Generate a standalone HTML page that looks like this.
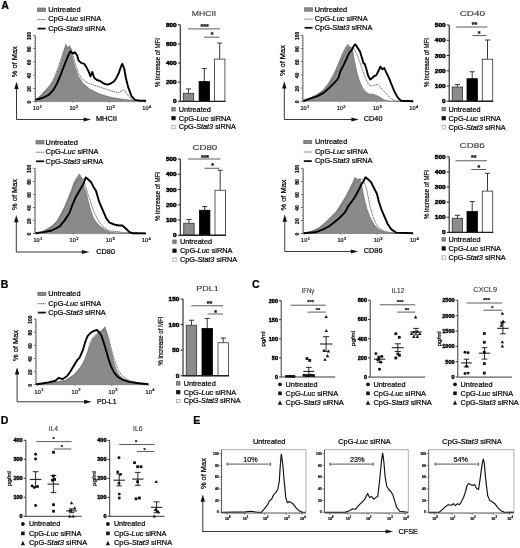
<!DOCTYPE html>
<html><head><meta charset="utf-8"><style>
html,body{margin:0;padding:0;background:#fff;}
svg{display:block;font-family:"Liberation Sans", sans-serif;} svg{filter:grayscale(1);}
</style></head><body>
<svg width="520" height="548" viewBox="0 0 520 548">
<rect width="520" height="548" fill="#fff"/>
<text x="1.3" y="9" font-size="10.6" font-weight="bold" fill="#000" stroke="#000" stroke-width="0.22">A</text>
<text x="0.8" y="287.7" font-size="10.6" font-weight="bold" fill="#000" stroke="#000" stroke-width="0.22">B</text>
<text x="252" y="288.2" font-size="10.6" font-weight="bold" fill="#000" stroke="#000" stroke-width="0.22">C</text>
<text x="0.8" y="423.6" font-size="10.6" font-weight="bold" fill="#000" stroke="#000" stroke-width="0.22">D</text>
<text x="193.2" y="423.6" font-size="10.6" font-weight="bold" fill="#000" stroke="#000" stroke-width="0.22">E</text>
<path d="M35.4 99.6 L38 98 L41.5 94.5 L45 90.5 L48.5 86.9 L53.1 81.2 L56.5 74.2 L60 65 L62.3 58.1 L64.6 48.8 L65.8 44.2 L67 46.5 L68.1 47.7 L69.7 45.4 L71.5 52.3 L72.7 58.1 L75 67.3 L78.5 76.5 L83.1 83.5 L90 89.2 L99.2 93.8 L110.8 97.3 L122.3 99.2 L131.5 100.3 L146 101.4 L146 101.6 L35.4 101.6 Z" fill="#8a8a8a" stroke="#666" stroke-width="0.6"/>
<path d="M35.4 99.8 L41.5 95.5 L46.5 90.5 L50.5 85 L54.5 77 L58 68 L61 59 L63.5 51.5 L65.5 47.5 L67.5 48.5 L69.5 46.5 L71 48 L72.5 53 L73.8 58.1 L76.2 66.2 L78.5 73.1 L81.9 78.8 L86.5 82.3 L92.3 84.6 L99.2 86.9 L106.2 89.2 L113.1 91.5 L118.8 92.7 L122.3 90.4 L124.6 90.4 L126.9 93.8 L130.4 98.5 L133.8 100.3 L146 101.3" fill="none" stroke="#6e6e6e" stroke-width="1" stroke-dasharray="1.6 0.6"/>
<path d="M35.4 99.6 L39 99 L43.8 97.3 L48.5 95 L53.1 90.4 L56.5 84.6 L60 76.5 L63.5 67.3 L65.8 61.5 L68.1 55.8 L70.4 51.2 L72.7 53.5 L75 52.3 L77.3 55.8 L78.5 60.4 L80.8 62.7 L84.2 63.8 L86.5 67.3 L88.8 71.9 L90.5 76.5 L92.3 71.9 L94.2 77.7 L96.9 80 L100.4 81.2 L103.8 83.5 L107.3 84.6 L110.8 83.5 L114.2 81.2 L116.5 77.7 L118.8 73.1 L120.7 67.3 L122.3 63.8 L124.2 68.5 L125.8 77.7 L128.1 86.9 L131.5 96.2 L135 99.9 L139.6 100.6 L146 100.8" fill="none" stroke="#000" stroke-width="1.9" stroke-linejoin="round"/>
<rect x="37.6" y="8" width="8" height="3.4" fill="#8a8a8a" stroke="#555" stroke-width="0.6"/>
<line x1="37.6" y1="19.6" x2="45.6" y2="19.6" stroke="#444" stroke-width="1" stroke-dasharray="1 0.7"/>
<line x1="37.6" y1="28.6" x2="45.6" y2="28.6" stroke="#111" stroke-width="1.8"/>
<text x="48.2" y="12" font-size="7.3" textLength="32.3" lengthAdjust="spacingAndGlyphs" stroke="#000" stroke-width="0.22">Untreated</text>
<text x="48.2" y="21.4" font-size="7.3" textLength="52.9" lengthAdjust="spacingAndGlyphs" stroke="#000" stroke-width="0.22">CpG-<tspan font-style="italic">Luc</tspan> siRNA</text>
<text x="48.2" y="30.8" font-size="7.3" textLength="57.5" lengthAdjust="spacingAndGlyphs" stroke="#000" stroke-width="0.22">CpG-<tspan font-style="italic">Stat3</tspan> siRNA</text>
<line x1="35.3" y1="35.5" x2="35.3" y2="101.6" stroke="#333" stroke-width="0.8"/>
<line x1="33.1" y1="101.6" x2="35.3" y2="101.6" stroke="#333" stroke-width="0.7"/>
<text x="31.1" y="102.2" font-size="5.4" text-anchor="middle" font-weight="bold" fill="#222" textLength="2.8" lengthAdjust="spacingAndGlyphs" transform="rotate(-90 31.1 102.2)" stroke="#000" stroke-width="0.22">0</text>
<line x1="34.1" y1="98.96" x2="35.3" y2="98.96" stroke="#555" stroke-width="0.5"/>
<line x1="34.1" y1="96.31" x2="35.3" y2="96.31" stroke="#555" stroke-width="0.5"/>
<line x1="34.1" y1="93.67" x2="35.3" y2="93.67" stroke="#555" stroke-width="0.5"/>
<line x1="34.1" y1="91.02" x2="35.3" y2="91.02" stroke="#555" stroke-width="0.5"/>
<line x1="33.1" y1="88.38" x2="35.3" y2="88.38" stroke="#333" stroke-width="0.7"/>
<text x="31.1" y="88.98" font-size="5.4" text-anchor="middle" font-weight="bold" fill="#222" textLength="5.6" lengthAdjust="spacingAndGlyphs" transform="rotate(-90 31.1 88.98)" stroke="#000" stroke-width="0.22">20</text>
<line x1="34.1" y1="85.74" x2="35.3" y2="85.74" stroke="#555" stroke-width="0.5"/>
<line x1="34.1" y1="83.09" x2="35.3" y2="83.09" stroke="#555" stroke-width="0.5"/>
<line x1="34.1" y1="80.45" x2="35.3" y2="80.45" stroke="#555" stroke-width="0.5"/>
<line x1="34.1" y1="77.8" x2="35.3" y2="77.8" stroke="#555" stroke-width="0.5"/>
<line x1="33.1" y1="75.16" x2="35.3" y2="75.16" stroke="#333" stroke-width="0.7"/>
<text x="31.1" y="75.76" font-size="5.4" text-anchor="middle" font-weight="bold" fill="#222" textLength="5.6" lengthAdjust="spacingAndGlyphs" transform="rotate(-90 31.1 75.76)" stroke="#000" stroke-width="0.22">40</text>
<line x1="34.1" y1="72.52" x2="35.3" y2="72.52" stroke="#555" stroke-width="0.5"/>
<line x1="34.1" y1="69.87" x2="35.3" y2="69.87" stroke="#555" stroke-width="0.5"/>
<line x1="34.1" y1="67.23" x2="35.3" y2="67.23" stroke="#555" stroke-width="0.5"/>
<line x1="34.1" y1="64.58" x2="35.3" y2="64.58" stroke="#555" stroke-width="0.5"/>
<line x1="33.1" y1="61.94" x2="35.3" y2="61.94" stroke="#333" stroke-width="0.7"/>
<text x="31.1" y="62.54" font-size="5.4" text-anchor="middle" font-weight="bold" fill="#222" textLength="5.6" lengthAdjust="spacingAndGlyphs" transform="rotate(-90 31.1 62.54)" stroke="#000" stroke-width="0.22">60</text>
<line x1="34.1" y1="59.3" x2="35.3" y2="59.3" stroke="#555" stroke-width="0.5"/>
<line x1="34.1" y1="56.65" x2="35.3" y2="56.65" stroke="#555" stroke-width="0.5"/>
<line x1="34.1" y1="54.01" x2="35.3" y2="54.01" stroke="#555" stroke-width="0.5"/>
<line x1="34.1" y1="51.36" x2="35.3" y2="51.36" stroke="#555" stroke-width="0.5"/>
<line x1="33.1" y1="48.72" x2="35.3" y2="48.72" stroke="#333" stroke-width="0.7"/>
<text x="31.1" y="49.32" font-size="5.4" text-anchor="middle" font-weight="bold" fill="#222" textLength="5.6" lengthAdjust="spacingAndGlyphs" transform="rotate(-90 31.1 49.32)" stroke="#000" stroke-width="0.22">80</text>
<line x1="34.1" y1="46.08" x2="35.3" y2="46.08" stroke="#555" stroke-width="0.5"/>
<line x1="34.1" y1="43.43" x2="35.3" y2="43.43" stroke="#555" stroke-width="0.5"/>
<line x1="34.1" y1="40.79" x2="35.3" y2="40.79" stroke="#555" stroke-width="0.5"/>
<line x1="34.1" y1="38.14" x2="35.3" y2="38.14" stroke="#555" stroke-width="0.5"/>
<line x1="33.1" y1="35.5" x2="35.3" y2="35.5" stroke="#333" stroke-width="0.7"/>
<text x="31.1" y="36.1" font-size="5.4" text-anchor="middle" font-weight="bold" fill="#222" textLength="8" lengthAdjust="spacingAndGlyphs" transform="rotate(-90 31.1 36.1)" stroke="#000" stroke-width="0.22">100</text>
<line x1="36.3" y1="101.6" x2="36.3" y2="102.8" stroke="#444" stroke-width="0.6"/>
<text x="33.1" y="110.4" font-size="6" fill="#222" textLength="6.2" lengthAdjust="spacingAndGlyphs" stroke="#000" stroke-width="0.22">10</text>
<text x="39.7" y="107.8" font-size="4" fill="#222" stroke="#000" stroke-width="0.22">1</text>
<line x1="72.7" y1="101.6" x2="72.7" y2="102.8" stroke="#444" stroke-width="0.6"/>
<text x="69.5" y="110.4" font-size="6" fill="#222" textLength="6.2" lengthAdjust="spacingAndGlyphs" stroke="#000" stroke-width="0.22">10</text>
<text x="76.1" y="107.8" font-size="4" fill="#222" stroke="#000" stroke-width="0.22">2</text>
<line x1="109.1" y1="101.6" x2="109.1" y2="102.8" stroke="#444" stroke-width="0.6"/>
<text x="105.9" y="110.4" font-size="6" fill="#222" textLength="6.2" lengthAdjust="spacingAndGlyphs" stroke="#000" stroke-width="0.22">10</text>
<text x="112.5" y="107.8" font-size="4" fill="#222" stroke="#000" stroke-width="0.22">3</text>
<line x1="145.5" y1="101.6" x2="145.5" y2="102.8" stroke="#444" stroke-width="0.6"/>
<text x="142.3" y="110.4" font-size="6" fill="#222" textLength="6.2" lengthAdjust="spacingAndGlyphs" stroke="#000" stroke-width="0.22">10</text>
<text x="148.9" y="107.8" font-size="4" fill="#222" stroke="#000" stroke-width="0.22">4</text>
<line x1="16.5" y1="119.5" x2="16.5" y2="87.8" stroke="#222" stroke-width="0.9"/>
<path d="M16.5 81.8 L18.7 89 L14.3 89 Z" fill="#111" stroke="none" stroke-width="1"/>
<line x1="16.5" y1="119.5" x2="85" y2="119.5" stroke="#222" stroke-width="0.9"/>
<path d="M91 119.5 L83.6 117.4 L83.6 121.6 Z" fill="#111" stroke="none" stroke-width="1"/>
<text x="95.9" y="121" font-size="6.7" textLength="21.1" lengthAdjust="spacingAndGlyphs" stroke="#000" stroke-width="0.22">MHCII</text>
<text x="17.3" y="61.7" font-size="7.4" text-anchor="middle" textLength="31" lengthAdjust="spacingAndGlyphs" transform="rotate(-90 17.3 61.7)" stroke="#000" stroke-width="0.22">% of Max</text>
<path d="M303.4 101 L309.4 98.3 L316.2 94.9 L322.9 90.2 L328.3 83.5 L332.3 76.7 L335.7 70 L339 61.9 L342.4 53.8 L345.8 47.1 L347.8 44.4 L349.8 46.4 L351.8 48.5 L353 52 L354.7 61.9 L356.7 71.3 L359.4 80.8 L362.8 88.2 L366.2 92.2 L369.5 94.2 L372.2 94 L375.6 94.9 L379.6 96.9 L385 100.3 L390.4 101.2 L413 101.4 L413 101.3 L303.4 101.3 Z" fill="#8a8a8a" stroke="#666" stroke-width="0.6"/>
<path d="M303.4 101 L310 98.3 L317 95.5 L323 91.5 L328.3 86 L332.3 80 L335.7 74 L339 67 L342.4 59 L345.8 52 L349 48 L351.5 47.5 L353.4 47.8 L356.7 53.8 L359.4 60.6 L362.1 68.6 L364.8 76.7 L367.5 82.1 L370.2 86.1 L372.9 85.5 L375.6 84.8 L377.6 84.1 L379.6 86.1 L382.3 89.5 L385.7 92.9 L390.4 98.3 L395.8 101 L413 101.3" fill="none" stroke="#6e6e6e" stroke-width="1" stroke-dasharray="1.6 0.6"/>
<path d="M303.4 101 L310.8 98.3 L317.5 96.2 L323.6 92.9 L328.3 88.8 L332.3 84.8 L335.7 81.4 L338.4 78.1 L340.4 71.3 L343.1 66 L346.4 59.2 L349.1 53.2 L351.8 49.8 L353.8 45.8 L355.3 44.3 L358.1 48.5 L360.1 51.8 L362.1 58.6 L363.5 63.3 L364.8 63.9 L366.2 68.6 L368.2 76 L370.2 79.4 L372.2 78.1 L374.2 76 L376.2 75.4 L378.3 71.3 L380.3 66.6 L382.3 69.3 L384.3 68 L386.3 72.7 L389 78.1 L391.7 84.8 L394.4 91.5 L397.8 97.6 L401.1 100.7 L413.3 101.2" fill="none" stroke="#000" stroke-width="1.9" stroke-linejoin="round"/>
<rect x="304.6" y="7.8" width="8" height="3.4" fill="#8a8a8a" stroke="#555" stroke-width="0.6"/>
<line x1="304.6" y1="19.1" x2="312.6" y2="19.1" stroke="#444" stroke-width="1" stroke-dasharray="1 0.7"/>
<line x1="304.6" y1="27.8" x2="312.6" y2="27.8" stroke="#111" stroke-width="1.8"/>
<text x="314.8" y="11.8" font-size="7.3" textLength="32.3" lengthAdjust="spacingAndGlyphs" stroke="#000" stroke-width="0.22">Untreated</text>
<text x="314.8" y="20.9" font-size="7.3" textLength="52.9" lengthAdjust="spacingAndGlyphs" stroke="#000" stroke-width="0.22">CpG-<tspan font-style="italic">Luc</tspan> siRNA</text>
<text x="314.8" y="30" font-size="7.3" textLength="57.5" lengthAdjust="spacingAndGlyphs" stroke="#000" stroke-width="0.22">CpG-<tspan font-style="italic">Stat3</tspan> siRNA</text>
<line x1="302.9" y1="35.3" x2="302.9" y2="101.3" stroke="#333" stroke-width="0.8"/>
<line x1="300.7" y1="101.3" x2="302.9" y2="101.3" stroke="#333" stroke-width="0.7"/>
<text x="298.7" y="101.9" font-size="5.4" text-anchor="middle" font-weight="bold" fill="#222" textLength="2.8" lengthAdjust="spacingAndGlyphs" transform="rotate(-90 298.7 101.9)" stroke="#000" stroke-width="0.22">0</text>
<line x1="301.7" y1="98.66" x2="302.9" y2="98.66" stroke="#555" stroke-width="0.5"/>
<line x1="301.7" y1="96.02" x2="302.9" y2="96.02" stroke="#555" stroke-width="0.5"/>
<line x1="301.7" y1="93.38" x2="302.9" y2="93.38" stroke="#555" stroke-width="0.5"/>
<line x1="301.7" y1="90.74" x2="302.9" y2="90.74" stroke="#555" stroke-width="0.5"/>
<line x1="300.7" y1="88.1" x2="302.9" y2="88.1" stroke="#333" stroke-width="0.7"/>
<text x="298.7" y="88.7" font-size="5.4" text-anchor="middle" font-weight="bold" fill="#222" textLength="5.6" lengthAdjust="spacingAndGlyphs" transform="rotate(-90 298.7 88.7)" stroke="#000" stroke-width="0.22">20</text>
<line x1="301.7" y1="85.46" x2="302.9" y2="85.46" stroke="#555" stroke-width="0.5"/>
<line x1="301.7" y1="82.82" x2="302.9" y2="82.82" stroke="#555" stroke-width="0.5"/>
<line x1="301.7" y1="80.18" x2="302.9" y2="80.18" stroke="#555" stroke-width="0.5"/>
<line x1="301.7" y1="77.54" x2="302.9" y2="77.54" stroke="#555" stroke-width="0.5"/>
<line x1="300.7" y1="74.9" x2="302.9" y2="74.9" stroke="#333" stroke-width="0.7"/>
<text x="298.7" y="75.5" font-size="5.4" text-anchor="middle" font-weight="bold" fill="#222" textLength="5.6" lengthAdjust="spacingAndGlyphs" transform="rotate(-90 298.7 75.5)" stroke="#000" stroke-width="0.22">40</text>
<line x1="301.7" y1="72.26" x2="302.9" y2="72.26" stroke="#555" stroke-width="0.5"/>
<line x1="301.7" y1="69.62" x2="302.9" y2="69.62" stroke="#555" stroke-width="0.5"/>
<line x1="301.7" y1="66.98" x2="302.9" y2="66.98" stroke="#555" stroke-width="0.5"/>
<line x1="301.7" y1="64.34" x2="302.9" y2="64.34" stroke="#555" stroke-width="0.5"/>
<line x1="300.7" y1="61.7" x2="302.9" y2="61.7" stroke="#333" stroke-width="0.7"/>
<text x="298.7" y="62.3" font-size="5.4" text-anchor="middle" font-weight="bold" fill="#222" textLength="5.6" lengthAdjust="spacingAndGlyphs" transform="rotate(-90 298.7 62.3)" stroke="#000" stroke-width="0.22">60</text>
<line x1="301.7" y1="59.06" x2="302.9" y2="59.06" stroke="#555" stroke-width="0.5"/>
<line x1="301.7" y1="56.42" x2="302.9" y2="56.42" stroke="#555" stroke-width="0.5"/>
<line x1="301.7" y1="53.78" x2="302.9" y2="53.78" stroke="#555" stroke-width="0.5"/>
<line x1="301.7" y1="51.14" x2="302.9" y2="51.14" stroke="#555" stroke-width="0.5"/>
<line x1="300.7" y1="48.5" x2="302.9" y2="48.5" stroke="#333" stroke-width="0.7"/>
<text x="298.7" y="49.1" font-size="5.4" text-anchor="middle" font-weight="bold" fill="#222" textLength="5.6" lengthAdjust="spacingAndGlyphs" transform="rotate(-90 298.7 49.1)" stroke="#000" stroke-width="0.22">80</text>
<line x1="301.7" y1="45.86" x2="302.9" y2="45.86" stroke="#555" stroke-width="0.5"/>
<line x1="301.7" y1="43.22" x2="302.9" y2="43.22" stroke="#555" stroke-width="0.5"/>
<line x1="301.7" y1="40.58" x2="302.9" y2="40.58" stroke="#555" stroke-width="0.5"/>
<line x1="301.7" y1="37.94" x2="302.9" y2="37.94" stroke="#555" stroke-width="0.5"/>
<line x1="300.7" y1="35.3" x2="302.9" y2="35.3" stroke="#333" stroke-width="0.7"/>
<text x="298.7" y="35.9" font-size="5.4" text-anchor="middle" font-weight="bold" fill="#222" textLength="8" lengthAdjust="spacingAndGlyphs" transform="rotate(-90 298.7 35.9)" stroke="#000" stroke-width="0.22">100</text>
<line x1="303.6" y1="101.3" x2="303.6" y2="102.5" stroke="#444" stroke-width="0.6"/>
<text x="300.4" y="110.1" font-size="6" fill="#222" textLength="6.2" lengthAdjust="spacingAndGlyphs" stroke="#000" stroke-width="0.22">10</text>
<text x="307" y="107.5" font-size="4" fill="#222" stroke="#000" stroke-width="0.22">1</text>
<line x1="339.9" y1="101.3" x2="339.9" y2="102.5" stroke="#444" stroke-width="0.6"/>
<text x="336.7" y="110.1" font-size="6" fill="#222" textLength="6.2" lengthAdjust="spacingAndGlyphs" stroke="#000" stroke-width="0.22">10</text>
<text x="343.3" y="107.5" font-size="4" fill="#222" stroke="#000" stroke-width="0.22">2</text>
<line x1="376.2" y1="101.3" x2="376.2" y2="102.5" stroke="#444" stroke-width="0.6"/>
<text x="373" y="110.1" font-size="6" fill="#222" textLength="6.2" lengthAdjust="spacingAndGlyphs" stroke="#000" stroke-width="0.22">10</text>
<text x="379.6" y="107.5" font-size="4" fill="#222" stroke="#000" stroke-width="0.22">3</text>
<line x1="412.5" y1="101.3" x2="412.5" y2="102.5" stroke="#444" stroke-width="0.6"/>
<text x="409.3" y="110.1" font-size="6" fill="#222" textLength="6.2" lengthAdjust="spacingAndGlyphs" stroke="#000" stroke-width="0.22">10</text>
<text x="415.9" y="107.5" font-size="4" fill="#222" stroke="#000" stroke-width="0.22">4</text>
<line x1="284.3" y1="119.5" x2="284.3" y2="87.3" stroke="#222" stroke-width="0.9"/>
<path d="M284.3 81.3 L286.5 88.5 L282.1 88.5 Z" fill="#111" stroke="none" stroke-width="1"/>
<line x1="284.3" y1="119.5" x2="352.8" y2="119.5" stroke="#222" stroke-width="0.9"/>
<path d="M358.8 119.5 L351.4 117.4 L351.4 121.6 Z" fill="#111" stroke="none" stroke-width="1"/>
<text x="363.8" y="121" font-size="6.7" textLength="18.7" lengthAdjust="spacingAndGlyphs" stroke="#000" stroke-width="0.22">CD40</text>
<text x="285.1" y="60.6" font-size="7.4" text-anchor="middle" textLength="31" lengthAdjust="spacingAndGlyphs" transform="rotate(-90 285.1 60.6)" stroke="#000" stroke-width="0.22">% of Max</text>
<path d="M35.5 233.1 L41 232.1 L46.4 229.4 L51.9 226 L56.7 221.2 L60.8 214.3 L64.2 207.5 L67.7 199.2 L71.1 191 L73.8 182.8 L76.6 178 L79.3 173.9 L81.4 177.3 L82.7 180.1 L84.1 186.9 L86.2 192.4 L88.2 200.6 L90.3 208.8 L93 217.1 L96.4 222.5 L100.5 226.6 L104.7 229.4 L110.1 232.1 L115.6 232.8 L146 233.3 L146 233.6 L35.5 233.6 Z" fill="#8a8a8a" stroke="#666" stroke-width="0.6"/>
<path d="M35.5 233.1 L41 232.3 L46.4 230 L51.9 227 L56.7 222.5 L60.8 216 L64.2 209.5 L67.7 201.5 L71.1 193.5 L74 186 L77 181 L80 178.5 L83.4 178.7 L85.5 186 L87.5 192.4 L88.2 195.1 L90.3 200.6 L92.3 207.5 L95.1 214.3 L97.8 219.8 L100.5 223.9 L104 227.3 L108.8 230.8 L114.2 231.4 L118.4 231.7 L123.8 232.8 L146 233.1" fill="none" stroke="#6e6e6e" stroke-width="1" stroke-dasharray="1.6 0.6"/>
<path d="M35.5 233.1 L43.7 232.1 L51.9 230.5 L56.7 228 L60 226.2 L64.6 220.4 L69.2 213.5 L72.7 204.2 L76.2 196.2 L79.6 190.4 L83.1 184.6 L85.8 177.4 L88.8 180 L91.2 182.3 L93.5 186.9 L95.8 190.4 L97.5 196 L99.2 201.9 L102.7 210 L106.2 218.1 L109.6 222.7 L114.2 224.5 L118.8 225.5 L122.3 225.5 L125.8 228.5 L129.2 231.9 L132.7 233.3 L145.8 233.4" fill="none" stroke="#000" stroke-width="1.9" stroke-linejoin="round"/>
<rect x="36" y="140.6" width="8" height="3.4" fill="#8a8a8a" stroke="#555" stroke-width="0.6"/>
<line x1="36" y1="152.25" x2="44" y2="152.25" stroke="#444" stroke-width="1" stroke-dasharray="1 0.7"/>
<line x1="36" y1="161.3" x2="44" y2="161.3" stroke="#111" stroke-width="1.8"/>
<text x="45.6" y="144.6" font-size="7.3" textLength="32.3" lengthAdjust="spacingAndGlyphs" stroke="#000" stroke-width="0.22">Untreated</text>
<text x="45.6" y="154.05" font-size="7.3" textLength="52.9" lengthAdjust="spacingAndGlyphs" stroke="#000" stroke-width="0.22">CpG-<tspan font-style="italic">Luc</tspan> siRNA</text>
<text x="45.6" y="163.5" font-size="7.3" textLength="57.5" lengthAdjust="spacingAndGlyphs" stroke="#000" stroke-width="0.22">CpG-<tspan font-style="italic">Stat3</tspan> siRNA</text>
<line x1="35.1" y1="168.3" x2="35.1" y2="233.6" stroke="#333" stroke-width="0.8"/>
<line x1="32.9" y1="233.6" x2="35.1" y2="233.6" stroke="#333" stroke-width="0.7"/>
<text x="30.9" y="234.2" font-size="5.4" text-anchor="middle" font-weight="bold" fill="#222" textLength="2.8" lengthAdjust="spacingAndGlyphs" transform="rotate(-90 30.9 234.2)" stroke="#000" stroke-width="0.22">0</text>
<line x1="33.9" y1="230.99" x2="35.1" y2="230.99" stroke="#555" stroke-width="0.5"/>
<line x1="33.9" y1="228.38" x2="35.1" y2="228.38" stroke="#555" stroke-width="0.5"/>
<line x1="33.9" y1="225.76" x2="35.1" y2="225.76" stroke="#555" stroke-width="0.5"/>
<line x1="33.9" y1="223.15" x2="35.1" y2="223.15" stroke="#555" stroke-width="0.5"/>
<line x1="32.9" y1="220.54" x2="35.1" y2="220.54" stroke="#333" stroke-width="0.7"/>
<text x="30.9" y="221.14" font-size="5.4" text-anchor="middle" font-weight="bold" fill="#222" textLength="5.6" lengthAdjust="spacingAndGlyphs" transform="rotate(-90 30.9 221.14)" stroke="#000" stroke-width="0.22">20</text>
<line x1="33.9" y1="217.93" x2="35.1" y2="217.93" stroke="#555" stroke-width="0.5"/>
<line x1="33.9" y1="215.32" x2="35.1" y2="215.32" stroke="#555" stroke-width="0.5"/>
<line x1="33.9" y1="212.7" x2="35.1" y2="212.7" stroke="#555" stroke-width="0.5"/>
<line x1="33.9" y1="210.09" x2="35.1" y2="210.09" stroke="#555" stroke-width="0.5"/>
<line x1="32.9" y1="207.48" x2="35.1" y2="207.48" stroke="#333" stroke-width="0.7"/>
<text x="30.9" y="208.08" font-size="5.4" text-anchor="middle" font-weight="bold" fill="#222" textLength="5.6" lengthAdjust="spacingAndGlyphs" transform="rotate(-90 30.9 208.08)" stroke="#000" stroke-width="0.22">40</text>
<line x1="33.9" y1="204.87" x2="35.1" y2="204.87" stroke="#555" stroke-width="0.5"/>
<line x1="33.9" y1="202.26" x2="35.1" y2="202.26" stroke="#555" stroke-width="0.5"/>
<line x1="33.9" y1="199.64" x2="35.1" y2="199.64" stroke="#555" stroke-width="0.5"/>
<line x1="33.9" y1="197.03" x2="35.1" y2="197.03" stroke="#555" stroke-width="0.5"/>
<line x1="32.9" y1="194.42" x2="35.1" y2="194.42" stroke="#333" stroke-width="0.7"/>
<text x="30.9" y="195.02" font-size="5.4" text-anchor="middle" font-weight="bold" fill="#222" textLength="5.6" lengthAdjust="spacingAndGlyphs" transform="rotate(-90 30.9 195.02)" stroke="#000" stroke-width="0.22">60</text>
<line x1="33.9" y1="191.81" x2="35.1" y2="191.81" stroke="#555" stroke-width="0.5"/>
<line x1="33.9" y1="189.2" x2="35.1" y2="189.2" stroke="#555" stroke-width="0.5"/>
<line x1="33.9" y1="186.58" x2="35.1" y2="186.58" stroke="#555" stroke-width="0.5"/>
<line x1="33.9" y1="183.97" x2="35.1" y2="183.97" stroke="#555" stroke-width="0.5"/>
<line x1="32.9" y1="181.36" x2="35.1" y2="181.36" stroke="#333" stroke-width="0.7"/>
<text x="30.9" y="181.96" font-size="5.4" text-anchor="middle" font-weight="bold" fill="#222" textLength="5.6" lengthAdjust="spacingAndGlyphs" transform="rotate(-90 30.9 181.96)" stroke="#000" stroke-width="0.22">80</text>
<line x1="33.9" y1="178.75" x2="35.1" y2="178.75" stroke="#555" stroke-width="0.5"/>
<line x1="33.9" y1="176.14" x2="35.1" y2="176.14" stroke="#555" stroke-width="0.5"/>
<line x1="33.9" y1="173.52" x2="35.1" y2="173.52" stroke="#555" stroke-width="0.5"/>
<line x1="33.9" y1="170.91" x2="35.1" y2="170.91" stroke="#555" stroke-width="0.5"/>
<line x1="32.9" y1="168.3" x2="35.1" y2="168.3" stroke="#333" stroke-width="0.7"/>
<text x="30.9" y="168.9" font-size="5.4" text-anchor="middle" font-weight="bold" fill="#222" textLength="8" lengthAdjust="spacingAndGlyphs" transform="rotate(-90 30.9 168.9)" stroke="#000" stroke-width="0.22">100</text>
<line x1="36.6" y1="233.6" x2="36.6" y2="234.8" stroke="#444" stroke-width="0.6"/>
<text x="33.4" y="242.4" font-size="6" fill="#222" textLength="6.2" lengthAdjust="spacingAndGlyphs" stroke="#000" stroke-width="0.22">10</text>
<text x="40" y="239.8" font-size="4" fill="#222" stroke="#000" stroke-width="0.22">1</text>
<line x1="72.8" y1="233.6" x2="72.8" y2="234.8" stroke="#444" stroke-width="0.6"/>
<text x="69.6" y="242.4" font-size="6" fill="#222" textLength="6.2" lengthAdjust="spacingAndGlyphs" stroke="#000" stroke-width="0.22">10</text>
<text x="76.2" y="239.8" font-size="4" fill="#222" stroke="#000" stroke-width="0.22">2</text>
<line x1="109" y1="233.6" x2="109" y2="234.8" stroke="#444" stroke-width="0.6"/>
<text x="105.8" y="242.4" font-size="6" fill="#222" textLength="6.2" lengthAdjust="spacingAndGlyphs" stroke="#000" stroke-width="0.22">10</text>
<text x="112.4" y="239.8" font-size="4" fill="#222" stroke="#000" stroke-width="0.22">3</text>
<line x1="145.2" y1="233.6" x2="145.2" y2="234.8" stroke="#444" stroke-width="0.6"/>
<text x="142" y="242.4" font-size="6" fill="#222" textLength="6.2" lengthAdjust="spacingAndGlyphs" stroke="#000" stroke-width="0.22">10</text>
<text x="148.6" y="239.8" font-size="4" fill="#222" stroke="#000" stroke-width="0.22">4</text>
<line x1="16.3" y1="252" x2="16.3" y2="221" stroke="#222" stroke-width="0.9"/>
<path d="M16.3 215 L18.5 222.2 L14.1 222.2 Z" fill="#111" stroke="none" stroke-width="1"/>
<line x1="16.3" y1="252" x2="83.3" y2="252" stroke="#222" stroke-width="0.9"/>
<path d="M89.3 252 L81.9 249.9 L81.9 254.1 Z" fill="#111" stroke="none" stroke-width="1"/>
<text x="96.3" y="253.5" font-size="6.7" textLength="18.7" lengthAdjust="spacingAndGlyphs" stroke="#000" stroke-width="0.22">CD80</text>
<text x="17.1" y="194.4" font-size="7.4" text-anchor="middle" textLength="31" lengthAdjust="spacingAndGlyphs" transform="rotate(-90 17.1 194.4)" stroke="#000" stroke-width="0.22">% of Max</text>
<path d="M303.6 233.2 L311.5 231.3 L319.2 227.5 L325 222.7 L330.8 216.9 L336.5 211.2 L341.3 203.5 L346.2 195.8 L350 188.1 L352.9 182.3 L354.8 177.3 L357.7 179.4 L360 178.8 L361.3 183 L362.5 190 L364.5 199.6 L367 209.2 L370 216.9 L374 224.6 L379 229.4 L385 232.3 L395 233.2 L413 233.4 L413 233.5 L303.6 233.5 Z" fill="#8a8a8a" stroke="#666" stroke-width="0.6"/>
<path d="M303.6 233.2 L313 231.3 L320.5 227.5 L326.5 222.7 L332.3 216.9 L338 211.2 L342.8 203.5 L347.7 195.8 L351.5 188.1 L354.5 183 L357 180.5 L360 179.5 L362 179 L363.5 180.4 L366.3 188.1 L368.3 197.7 L370.2 207.3 L373.1 216.9 L376 223.7 L379.8 228.5 L384.6 231.3 L392 232.8 L413 233.2" fill="none" stroke="#6e6e6e" stroke-width="1" stroke-dasharray="1.6 0.6"/>
<path d="M303.6 233.2 L315.4 232.3 L323.1 229.4 L328.8 226.5 L333.7 222.7 L338.5 218.8 L341.3 216 L344.2 213.1 L346.2 210.2 L348.1 206.3 L351 202.5 L353.8 198.7 L356.7 193.8 L359.6 188.1 L361.5 184.2 L363.5 181.3 L365.4 177.3 L368.3 179.4 L371.2 182.3 L374 188.1 L376.9 193.8 L378.8 201.5 L381.7 210.2 L384.6 216.9 L387.5 223.7 L391.3 229.4 L396.2 232.6 L413 233.2" fill="none" stroke="#000" stroke-width="1.9" stroke-linejoin="round"/>
<rect x="303.8" y="140.3" width="8" height="3.4" fill="#8a8a8a" stroke="#555" stroke-width="0.6"/>
<line x1="303.8" y1="152" x2="311.8" y2="152" stroke="#444" stroke-width="1" stroke-dasharray="1 0.7"/>
<line x1="303.8" y1="161.1" x2="311.8" y2="161.1" stroke="#111" stroke-width="1.8"/>
<text x="315" y="144.3" font-size="7.3" textLength="32.3" lengthAdjust="spacingAndGlyphs" stroke="#000" stroke-width="0.22">Untreated</text>
<text x="315" y="153.8" font-size="7.3" textLength="52.9" lengthAdjust="spacingAndGlyphs" stroke="#000" stroke-width="0.22">CpG-<tspan font-style="italic">Luc</tspan> siRNA</text>
<text x="315" y="163.3" font-size="7.3" textLength="57.5" lengthAdjust="spacingAndGlyphs" stroke="#000" stroke-width="0.22">CpG-<tspan font-style="italic">Stat3</tspan> siRNA</text>
<line x1="303.2" y1="168.4" x2="303.2" y2="233.5" stroke="#333" stroke-width="0.8"/>
<line x1="301" y1="233.5" x2="303.2" y2="233.5" stroke="#333" stroke-width="0.7"/>
<text x="299" y="234.1" font-size="5.4" text-anchor="middle" font-weight="bold" fill="#222" textLength="2.8" lengthAdjust="spacingAndGlyphs" transform="rotate(-90 299 234.1)" stroke="#000" stroke-width="0.22">0</text>
<line x1="302" y1="230.9" x2="303.2" y2="230.9" stroke="#555" stroke-width="0.5"/>
<line x1="302" y1="228.29" x2="303.2" y2="228.29" stroke="#555" stroke-width="0.5"/>
<line x1="302" y1="225.69" x2="303.2" y2="225.69" stroke="#555" stroke-width="0.5"/>
<line x1="302" y1="223.08" x2="303.2" y2="223.08" stroke="#555" stroke-width="0.5"/>
<line x1="301" y1="220.48" x2="303.2" y2="220.48" stroke="#333" stroke-width="0.7"/>
<text x="299" y="221.08" font-size="5.4" text-anchor="middle" font-weight="bold" fill="#222" textLength="5.6" lengthAdjust="spacingAndGlyphs" transform="rotate(-90 299 221.08)" stroke="#000" stroke-width="0.22">20</text>
<line x1="302" y1="217.88" x2="303.2" y2="217.88" stroke="#555" stroke-width="0.5"/>
<line x1="302" y1="215.27" x2="303.2" y2="215.27" stroke="#555" stroke-width="0.5"/>
<line x1="302" y1="212.67" x2="303.2" y2="212.67" stroke="#555" stroke-width="0.5"/>
<line x1="302" y1="210.06" x2="303.2" y2="210.06" stroke="#555" stroke-width="0.5"/>
<line x1="301" y1="207.46" x2="303.2" y2="207.46" stroke="#333" stroke-width="0.7"/>
<text x="299" y="208.06" font-size="5.4" text-anchor="middle" font-weight="bold" fill="#222" textLength="5.6" lengthAdjust="spacingAndGlyphs" transform="rotate(-90 299 208.06)" stroke="#000" stroke-width="0.22">40</text>
<line x1="302" y1="204.86" x2="303.2" y2="204.86" stroke="#555" stroke-width="0.5"/>
<line x1="302" y1="202.25" x2="303.2" y2="202.25" stroke="#555" stroke-width="0.5"/>
<line x1="302" y1="199.65" x2="303.2" y2="199.65" stroke="#555" stroke-width="0.5"/>
<line x1="302" y1="197.04" x2="303.2" y2="197.04" stroke="#555" stroke-width="0.5"/>
<line x1="301" y1="194.44" x2="303.2" y2="194.44" stroke="#333" stroke-width="0.7"/>
<text x="299" y="195.04" font-size="5.4" text-anchor="middle" font-weight="bold" fill="#222" textLength="5.6" lengthAdjust="spacingAndGlyphs" transform="rotate(-90 299 195.04)" stroke="#000" stroke-width="0.22">60</text>
<line x1="302" y1="191.84" x2="303.2" y2="191.84" stroke="#555" stroke-width="0.5"/>
<line x1="302" y1="189.23" x2="303.2" y2="189.23" stroke="#555" stroke-width="0.5"/>
<line x1="302" y1="186.63" x2="303.2" y2="186.63" stroke="#555" stroke-width="0.5"/>
<line x1="302" y1="184.02" x2="303.2" y2="184.02" stroke="#555" stroke-width="0.5"/>
<line x1="301" y1="181.42" x2="303.2" y2="181.42" stroke="#333" stroke-width="0.7"/>
<text x="299" y="182.02" font-size="5.4" text-anchor="middle" font-weight="bold" fill="#222" textLength="5.6" lengthAdjust="spacingAndGlyphs" transform="rotate(-90 299 182.02)" stroke="#000" stroke-width="0.22">80</text>
<line x1="302" y1="178.82" x2="303.2" y2="178.82" stroke="#555" stroke-width="0.5"/>
<line x1="302" y1="176.21" x2="303.2" y2="176.21" stroke="#555" stroke-width="0.5"/>
<line x1="302" y1="173.61" x2="303.2" y2="173.61" stroke="#555" stroke-width="0.5"/>
<line x1="302" y1="171" x2="303.2" y2="171" stroke="#555" stroke-width="0.5"/>
<line x1="301" y1="168.4" x2="303.2" y2="168.4" stroke="#333" stroke-width="0.7"/>
<text x="299" y="169" font-size="5.4" text-anchor="middle" font-weight="bold" fill="#222" textLength="8" lengthAdjust="spacingAndGlyphs" transform="rotate(-90 299 169)" stroke="#000" stroke-width="0.22">100</text>
<line x1="304.3" y1="233.5" x2="304.3" y2="234.7" stroke="#444" stroke-width="0.6"/>
<text x="301.1" y="242.3" font-size="6" fill="#222" textLength="6.2" lengthAdjust="spacingAndGlyphs" stroke="#000" stroke-width="0.22">10</text>
<text x="307.7" y="239.7" font-size="4" fill="#222" stroke="#000" stroke-width="0.22">1</text>
<line x1="340.6" y1="233.5" x2="340.6" y2="234.7" stroke="#444" stroke-width="0.6"/>
<text x="337.4" y="242.3" font-size="6" fill="#222" textLength="6.2" lengthAdjust="spacingAndGlyphs" stroke="#000" stroke-width="0.22">10</text>
<text x="344" y="239.7" font-size="4" fill="#222" stroke="#000" stroke-width="0.22">2</text>
<line x1="376.9" y1="233.5" x2="376.9" y2="234.7" stroke="#444" stroke-width="0.6"/>
<text x="373.7" y="242.3" font-size="6" fill="#222" textLength="6.2" lengthAdjust="spacingAndGlyphs" stroke="#000" stroke-width="0.22">10</text>
<text x="380.3" y="239.7" font-size="4" fill="#222" stroke="#000" stroke-width="0.22">3</text>
<line x1="413.2" y1="233.5" x2="413.2" y2="234.7" stroke="#444" stroke-width="0.6"/>
<text x="410" y="242.3" font-size="6" fill="#222" textLength="6.2" lengthAdjust="spacingAndGlyphs" stroke="#000" stroke-width="0.22">10</text>
<text x="416.6" y="239.7" font-size="4" fill="#222" stroke="#000" stroke-width="0.22">4</text>
<line x1="284.8" y1="251.5" x2="284.8" y2="220.6" stroke="#222" stroke-width="0.9"/>
<path d="M284.8 214.6 L287 221.8 L282.6 221.8 Z" fill="#111" stroke="none" stroke-width="1"/>
<line x1="284.8" y1="251.5" x2="352.2" y2="251.5" stroke="#222" stroke-width="0.9"/>
<path d="M358.2 251.5 L350.8 249.4 L350.8 253.6 Z" fill="#111" stroke="none" stroke-width="1"/>
<text x="363.8" y="253" font-size="6.7" textLength="18.7" lengthAdjust="spacingAndGlyphs" stroke="#000" stroke-width="0.22">CD86</text>
<text x="285.6" y="195" font-size="7.4" text-anchor="middle" textLength="31" lengthAdjust="spacingAndGlyphs" transform="rotate(-90 285.6 195)" stroke="#000" stroke-width="0.22">% of Max</text>
<path d="M36.1 384.4 L51.9 383 L59.2 381.8 L64.6 380.8 L73.8 375 L80.8 366.9 L85.4 358.8 L88.8 349.6 L91.2 342.7 L93.5 338.1 L96.9 334.6 L98.5 333.5 L100.4 331.2 L102 330.5 L103.4 328.4 L105 326.8 L106 330 L107.3 335.8 L109.6 345 L111.9 354.2 L114.2 363.5 L116.5 370.4 L120 376.2 L124.6 379.6 L131.5 381.9 L140.8 383.3 L148 384.4 L148 384.7 L36.1 384.7 Z" fill="#8a8a8a" stroke="#666" stroke-width="0.6"/>
<path d="M36.1 384.4 L52 383 L59.2 381.5 L66.9 380.3 L76.2 373.8 L83.1 363.5 L87.7 351.9 L90 342.7 L93.5 336.9 L97 333.5 L100 332 L103 330.5 L105.5 330 L107 333.5 L108.8 338.1 L111 347.3 L113.3 356.5 L116 364.6 L119 371.5 L122.5 376.2 L128 380 L135.4 382.2 L142.7 383.6 L148 384.3" fill="none" stroke="#6e6e6e" stroke-width="1" stroke-dasharray="1.6 0.6"/>
<path d="M36.1 384.2 L41.7 383.5 L48.5 382.4 L55.4 380.8 L58.8 377.8 L62.3 379.2 L66.9 376.2 L70.4 371.5 L73.8 365.8 L77.3 360 L79.6 357.7 L83.1 349.6 L85.4 341.5 L87.7 335.8 L91.2 332.3 L94.6 330.7 L96.9 330 L99.2 332.3 L101.5 335.8 L103.8 342.7 L106.2 350.8 L108.5 358.8 L110.8 365.8 L114.2 372.7 L117.7 376.8 L122.3 379.6 L129.2 381.9 L138.5 383.3 L148.5 384.3" fill="none" stroke="#000" stroke-width="1.9" stroke-linejoin="round"/>
<rect x="37.9" y="292.2" width="8" height="3.4" fill="#8a8a8a" stroke="#555" stroke-width="0.6"/>
<line x1="37.9" y1="303.7" x2="45.9" y2="303.7" stroke="#444" stroke-width="1" stroke-dasharray="1 0.7"/>
<line x1="37.9" y1="312.6" x2="45.9" y2="312.6" stroke="#111" stroke-width="1.8"/>
<text x="48.2" y="296.2" font-size="7.3" textLength="32.3" lengthAdjust="spacingAndGlyphs" stroke="#000" stroke-width="0.22">Untreated</text>
<text x="48.2" y="305.5" font-size="7.3" textLength="52.9" lengthAdjust="spacingAndGlyphs" stroke="#000" stroke-width="0.22">CpG-<tspan font-style="italic">Luc</tspan> siRNA</text>
<text x="48.2" y="314.8" font-size="7.3" textLength="57.5" lengthAdjust="spacingAndGlyphs" stroke="#000" stroke-width="0.22">CpG-<tspan font-style="italic">Stat3</tspan> siRNA</text>
<line x1="36" y1="319.1" x2="36" y2="384.7" stroke="#333" stroke-width="0.8"/>
<line x1="33.8" y1="384.7" x2="36" y2="384.7" stroke="#333" stroke-width="0.7"/>
<text x="31.8" y="385.3" font-size="5.4" text-anchor="middle" font-weight="bold" fill="#222" textLength="2.8" lengthAdjust="spacingAndGlyphs" transform="rotate(-90 31.8 385.3)" stroke="#000" stroke-width="0.22">0</text>
<line x1="34.8" y1="382.08" x2="36" y2="382.08" stroke="#555" stroke-width="0.5"/>
<line x1="34.8" y1="379.45" x2="36" y2="379.45" stroke="#555" stroke-width="0.5"/>
<line x1="34.8" y1="376.83" x2="36" y2="376.83" stroke="#555" stroke-width="0.5"/>
<line x1="34.8" y1="374.2" x2="36" y2="374.2" stroke="#555" stroke-width="0.5"/>
<line x1="33.8" y1="371.58" x2="36" y2="371.58" stroke="#333" stroke-width="0.7"/>
<text x="31.8" y="372.18" font-size="5.4" text-anchor="middle" font-weight="bold" fill="#222" textLength="5.6" lengthAdjust="spacingAndGlyphs" transform="rotate(-90 31.8 372.18)" stroke="#000" stroke-width="0.22">20</text>
<line x1="34.8" y1="368.96" x2="36" y2="368.96" stroke="#555" stroke-width="0.5"/>
<line x1="34.8" y1="366.33" x2="36" y2="366.33" stroke="#555" stroke-width="0.5"/>
<line x1="34.8" y1="363.71" x2="36" y2="363.71" stroke="#555" stroke-width="0.5"/>
<line x1="34.8" y1="361.08" x2="36" y2="361.08" stroke="#555" stroke-width="0.5"/>
<line x1="33.8" y1="358.46" x2="36" y2="358.46" stroke="#333" stroke-width="0.7"/>
<text x="31.8" y="359.06" font-size="5.4" text-anchor="middle" font-weight="bold" fill="#222" textLength="5.6" lengthAdjust="spacingAndGlyphs" transform="rotate(-90 31.8 359.06)" stroke="#000" stroke-width="0.22">40</text>
<line x1="34.8" y1="355.84" x2="36" y2="355.84" stroke="#555" stroke-width="0.5"/>
<line x1="34.8" y1="353.21" x2="36" y2="353.21" stroke="#555" stroke-width="0.5"/>
<line x1="34.8" y1="350.59" x2="36" y2="350.59" stroke="#555" stroke-width="0.5"/>
<line x1="34.8" y1="347.96" x2="36" y2="347.96" stroke="#555" stroke-width="0.5"/>
<line x1="33.8" y1="345.34" x2="36" y2="345.34" stroke="#333" stroke-width="0.7"/>
<text x="31.8" y="345.94" font-size="5.4" text-anchor="middle" font-weight="bold" fill="#222" textLength="5.6" lengthAdjust="spacingAndGlyphs" transform="rotate(-90 31.8 345.94)" stroke="#000" stroke-width="0.22">60</text>
<line x1="34.8" y1="342.72" x2="36" y2="342.72" stroke="#555" stroke-width="0.5"/>
<line x1="34.8" y1="340.09" x2="36" y2="340.09" stroke="#555" stroke-width="0.5"/>
<line x1="34.8" y1="337.47" x2="36" y2="337.47" stroke="#555" stroke-width="0.5"/>
<line x1="34.8" y1="334.84" x2="36" y2="334.84" stroke="#555" stroke-width="0.5"/>
<line x1="33.8" y1="332.22" x2="36" y2="332.22" stroke="#333" stroke-width="0.7"/>
<text x="31.8" y="332.82" font-size="5.4" text-anchor="middle" font-weight="bold" fill="#222" textLength="5.6" lengthAdjust="spacingAndGlyphs" transform="rotate(-90 31.8 332.82)" stroke="#000" stroke-width="0.22">80</text>
<line x1="34.8" y1="329.6" x2="36" y2="329.6" stroke="#555" stroke-width="0.5"/>
<line x1="34.8" y1="326.97" x2="36" y2="326.97" stroke="#555" stroke-width="0.5"/>
<line x1="34.8" y1="324.35" x2="36" y2="324.35" stroke="#555" stroke-width="0.5"/>
<line x1="34.8" y1="321.72" x2="36" y2="321.72" stroke="#555" stroke-width="0.5"/>
<line x1="33.8" y1="319.1" x2="36" y2="319.1" stroke="#333" stroke-width="0.7"/>
<text x="31.8" y="319.7" font-size="5.4" text-anchor="middle" font-weight="bold" fill="#222" textLength="8" lengthAdjust="spacingAndGlyphs" transform="rotate(-90 31.8 319.7)" stroke="#000" stroke-width="0.22">100</text>
<line x1="37.8" y1="384.7" x2="37.8" y2="385.9" stroke="#444" stroke-width="0.6"/>
<text x="34.6" y="393.5" font-size="6" fill="#222" textLength="6.2" lengthAdjust="spacingAndGlyphs" stroke="#000" stroke-width="0.22">10</text>
<text x="41.2" y="390.9" font-size="4" fill="#222" stroke="#000" stroke-width="0.22">1</text>
<line x1="74.8" y1="384.7" x2="74.8" y2="385.9" stroke="#444" stroke-width="0.6"/>
<text x="71.6" y="393.5" font-size="6" fill="#222" textLength="6.2" lengthAdjust="spacingAndGlyphs" stroke="#000" stroke-width="0.22">10</text>
<text x="78.2" y="390.9" font-size="4" fill="#222" stroke="#000" stroke-width="0.22">2</text>
<line x1="111.8" y1="384.7" x2="111.8" y2="385.9" stroke="#444" stroke-width="0.6"/>
<text x="108.6" y="393.5" font-size="6" fill="#222" textLength="6.2" lengthAdjust="spacingAndGlyphs" stroke="#000" stroke-width="0.22">10</text>
<text x="115.2" y="390.9" font-size="4" fill="#222" stroke="#000" stroke-width="0.22">3</text>
<line x1="148.8" y1="384.7" x2="148.8" y2="385.9" stroke="#444" stroke-width="0.6"/>
<text x="145.6" y="393.5" font-size="6" fill="#222" textLength="6.2" lengthAdjust="spacingAndGlyphs" stroke="#000" stroke-width="0.22">10</text>
<text x="152.2" y="390.9" font-size="4" fill="#222" stroke="#000" stroke-width="0.22">4</text>
<line x1="17.1" y1="401.8" x2="17.1" y2="373.2" stroke="#222" stroke-width="0.9"/>
<path d="M17.1 367.2 L19.3 374.4 L14.9 374.4 Z" fill="#111" stroke="none" stroke-width="1"/>
<line x1="17.1" y1="401.8" x2="85.6" y2="401.8" stroke="#222" stroke-width="0.9"/>
<path d="M91.6 401.8 L84.2 399.7 L84.2 403.9 Z" fill="#111" stroke="none" stroke-width="1"/>
<text x="97" y="404.1" font-size="6.7" textLength="19.5" lengthAdjust="spacingAndGlyphs" stroke="#000" stroke-width="0.22">PD-L1</text>
<text x="17.9" y="345.5" font-size="7.4" text-anchor="middle" textLength="31" lengthAdjust="spacingAndGlyphs" transform="rotate(-90 17.9 345.5)" stroke="#000" stroke-width="0.22">% of Max</text>
<text x="204" y="16" font-size="8" text-anchor="middle" fill="#333" textLength="24.5" lengthAdjust="spacingAndGlyphs" stroke="#333" stroke-width="0.12">MHCII</text>
<line x1="180.3" y1="24.8" x2="180.3" y2="101.3" stroke="#222" stroke-width="1.1"/>
<line x1="177.9" y1="101.3" x2="180.3" y2="101.3" stroke="#222" stroke-width="1"/>
<text x="176.7" y="103.3" font-size="5.6" text-anchor="end" font-weight="bold" fill="#111" textLength="3.6" lengthAdjust="spacingAndGlyphs" stroke="#000" stroke-width="0.45">0</text>
<line x1="177.9" y1="82.17" x2="180.3" y2="82.17" stroke="#222" stroke-width="1"/>
<text x="176.7" y="84.17" font-size="5.6" text-anchor="end" font-weight="bold" fill="#111" textLength="10.8" lengthAdjust="spacingAndGlyphs" stroke="#000" stroke-width="0.45">200</text>
<line x1="177.9" y1="63.05" x2="180.3" y2="63.05" stroke="#222" stroke-width="1"/>
<text x="176.7" y="65.05" font-size="5.6" text-anchor="end" font-weight="bold" fill="#111" textLength="10.8" lengthAdjust="spacingAndGlyphs" stroke="#000" stroke-width="0.45">400</text>
<line x1="177.9" y1="43.92" x2="180.3" y2="43.92" stroke="#222" stroke-width="1"/>
<text x="176.7" y="45.92" font-size="5.6" text-anchor="end" font-weight="bold" fill="#111" textLength="10.8" lengthAdjust="spacingAndGlyphs" stroke="#000" stroke-width="0.45">600</text>
<line x1="177.9" y1="24.8" x2="180.3" y2="24.8" stroke="#222" stroke-width="1"/>
<text x="176.7" y="26.8" font-size="5.6" text-anchor="end" font-weight="bold" fill="#111" textLength="10.8" lengthAdjust="spacingAndGlyphs" stroke="#000" stroke-width="0.45">800</text>
<line x1="188.5" y1="88.9" x2="188.5" y2="93.3" stroke="#222" stroke-width="0.9"/>
<line x1="185.9" y1="88.9" x2="191.1" y2="88.9" stroke="#222" stroke-width="0.9"/>
<rect x="183.3" y="93.3" width="10.4" height="8" fill="#8c8c8c" stroke="#333" stroke-width="0.8"/>
<line x1="204.3" y1="68.6" x2="204.3" y2="81.6" stroke="#222" stroke-width="0.9"/>
<line x1="201.7" y1="68.6" x2="206.9" y2="68.6" stroke="#222" stroke-width="0.9"/>
<rect x="199.1" y="81.6" width="10.4" height="19.7" fill="#000" stroke="#000" stroke-width="0.8"/>
<line x1="219.7" y1="43.1" x2="219.7" y2="59.1" stroke="#222" stroke-width="0.9"/>
<line x1="217.1" y1="43.1" x2="222.3" y2="43.1" stroke="#222" stroke-width="0.9"/>
<rect x="214.5" y="59.1" width="10.4" height="42.2" fill="#fff" stroke="#333" stroke-width="0.8"/>
<line x1="179.8" y1="101.3" x2="225.4" y2="101.3" stroke="#222" stroke-width="1.3"/>
<line x1="188" y1="28.9" x2="220" y2="28.9" stroke="#333" stroke-width="0.8"/>
<text x="204.7" y="28.9" font-size="7" text-anchor="middle" font-weight="bold" fill="#222" stroke="#000" stroke-width="0.22">***</text>
<line x1="204" y1="37.2" x2="219.5" y2="37.2" stroke="#333" stroke-width="0.8"/>
<text x="212" y="37.3" font-size="7" text-anchor="middle" font-weight="bold" fill="#222" stroke="#000" stroke-width="0.22">*</text>
<text x="160.4" y="62.5" font-size="7" text-anchor="middle" fill="#222" textLength="49" lengthAdjust="spacingAndGlyphs" transform="rotate(-90 160.4 62.5)" stroke="#000" stroke-width="0.22">% increase of MFI</text>
<rect x="171.8" y="107.6" width="3.4" height="3.4" fill="#8c8c8c" stroke="#555" stroke-width="0.7"/>
<rect x="171.8" y="116.45" width="3.4" height="3.4" fill="#111" stroke="#111" stroke-width="0.7"/>
<rect x="171.8" y="125.3" width="3.4" height="3.4" fill="#fff" stroke="#999" stroke-width="0.7"/>
<text x="178.8" y="111.7" font-size="7.3" textLength="32" lengthAdjust="spacingAndGlyphs" stroke="#000" stroke-width="0.22">Untreated</text>
<text x="178.8" y="120.55" font-size="7.3" textLength="52.5" lengthAdjust="spacingAndGlyphs" stroke="#000" stroke-width="0.22">CpG-<tspan font-style="italic">Luc</tspan> siRNA</text>
<text x="178.8" y="129.4" font-size="7.3" textLength="57" lengthAdjust="spacingAndGlyphs" stroke="#000" stroke-width="0.22">CpG-<tspan font-style="italic">Stat3</tspan> siRNA</text>
<text x="472.4" y="15.9" font-size="8" text-anchor="middle" fill="#333" textLength="25.5" lengthAdjust="spacingAndGlyphs" stroke="#333" stroke-width="0.12">CD40</text>
<line x1="449.2" y1="25" x2="449.2" y2="101.25" stroke="#222" stroke-width="1.1"/>
<line x1="446.8" y1="101.25" x2="449.2" y2="101.25" stroke="#222" stroke-width="1"/>
<text x="445.6" y="103.25" font-size="5.6" text-anchor="end" font-weight="bold" fill="#111" textLength="3.6" lengthAdjust="spacingAndGlyphs" stroke="#000" stroke-width="0.45">0</text>
<line x1="446.8" y1="86" x2="449.2" y2="86" stroke="#222" stroke-width="1"/>
<text x="445.6" y="88" font-size="5.6" text-anchor="end" font-weight="bold" fill="#111" textLength="10.8" lengthAdjust="spacingAndGlyphs" stroke="#000" stroke-width="0.45">100</text>
<line x1="446.8" y1="70.75" x2="449.2" y2="70.75" stroke="#222" stroke-width="1"/>
<text x="445.6" y="72.75" font-size="5.6" text-anchor="end" font-weight="bold" fill="#111" textLength="10.8" lengthAdjust="spacingAndGlyphs" stroke="#000" stroke-width="0.45">200</text>
<line x1="446.8" y1="55.5" x2="449.2" y2="55.5" stroke="#222" stroke-width="1"/>
<text x="445.6" y="57.5" font-size="5.6" text-anchor="end" font-weight="bold" fill="#111" textLength="10.8" lengthAdjust="spacingAndGlyphs" stroke="#000" stroke-width="0.45">300</text>
<line x1="446.8" y1="40.25" x2="449.2" y2="40.25" stroke="#222" stroke-width="1"/>
<text x="445.6" y="42.25" font-size="5.6" text-anchor="end" font-weight="bold" fill="#111" textLength="10.8" lengthAdjust="spacingAndGlyphs" stroke="#000" stroke-width="0.45">400</text>
<line x1="446.8" y1="25" x2="449.2" y2="25" stroke="#222" stroke-width="1"/>
<text x="445.6" y="27" font-size="5.6" text-anchor="end" font-weight="bold" fill="#111" textLength="10.8" lengthAdjust="spacingAndGlyphs" stroke="#000" stroke-width="0.45">500</text>
<line x1="457.4" y1="84.5" x2="457.4" y2="87" stroke="#222" stroke-width="0.9"/>
<line x1="454.8" y1="84.5" x2="460" y2="84.5" stroke="#222" stroke-width="0.9"/>
<rect x="452.2" y="87" width="10.4" height="14.25" fill="#8c8c8c" stroke="#333" stroke-width="0.8"/>
<line x1="472.2" y1="71.75" x2="472.2" y2="78.75" stroke="#222" stroke-width="0.9"/>
<line x1="469.6" y1="71.75" x2="474.8" y2="71.75" stroke="#222" stroke-width="0.9"/>
<rect x="467" y="78.75" width="10.4" height="22.5" fill="#000" stroke="#000" stroke-width="0.8"/>
<line x1="487.5" y1="40" x2="487.5" y2="59.25" stroke="#222" stroke-width="0.9"/>
<line x1="484.9" y1="40" x2="490.1" y2="40" stroke="#222" stroke-width="0.9"/>
<rect x="482.3" y="59.25" width="10.4" height="42" fill="#fff" stroke="#333" stroke-width="0.8"/>
<line x1="448.7" y1="101.25" x2="493.2" y2="101.25" stroke="#222" stroke-width="1.3"/>
<line x1="455.75" y1="27" x2="487.5" y2="27" stroke="#333" stroke-width="0.8"/>
<text x="474.5" y="27.3" font-size="7" text-anchor="middle" font-weight="bold" fill="#222" stroke="#000" stroke-width="0.22">**</text>
<line x1="472.5" y1="35.6" x2="486.75" y2="35.6" stroke="#333" stroke-width="0.8"/>
<text x="479" y="35.5" font-size="7" text-anchor="middle" font-weight="bold" fill="#222" stroke="#000" stroke-width="0.22">*</text>
<text x="429.1" y="62.5" font-size="7" text-anchor="middle" fill="#222" textLength="49" lengthAdjust="spacingAndGlyphs" transform="rotate(-90 429.1 62.5)" stroke="#000" stroke-width="0.22">% increase of MFI</text>
<rect x="442" y="107.4" width="3.4" height="3.4" fill="#8c8c8c" stroke="#555" stroke-width="0.7"/>
<rect x="442" y="116.5" width="3.4" height="3.4" fill="#111" stroke="#111" stroke-width="0.7"/>
<rect x="442" y="125.6" width="3.4" height="3.4" fill="#fff" stroke="#999" stroke-width="0.7"/>
<text x="448.5" y="111.5" font-size="7.3" textLength="32" lengthAdjust="spacingAndGlyphs" stroke="#000" stroke-width="0.22">Untreated</text>
<text x="448.5" y="120.6" font-size="7.3" textLength="52.5" lengthAdjust="spacingAndGlyphs" stroke="#000" stroke-width="0.22">CpG-<tspan font-style="italic">Luc</tspan> siRNA</text>
<text x="448.5" y="129.7" font-size="7.3" textLength="57" lengthAdjust="spacingAndGlyphs" stroke="#000" stroke-width="0.22">CpG-<tspan font-style="italic">Stat3</tspan> siRNA</text>
<text x="204.85" y="150.1" font-size="8" text-anchor="middle" fill="#333" textLength="24.9" lengthAdjust="spacingAndGlyphs" stroke="#333" stroke-width="0.12">CD80</text>
<line x1="180.3" y1="159" x2="180.3" y2="235.25" stroke="#222" stroke-width="1.1"/>
<line x1="177.9" y1="235.25" x2="180.3" y2="235.25" stroke="#222" stroke-width="1"/>
<text x="176.7" y="237.25" font-size="5.6" text-anchor="end" font-weight="bold" fill="#111" textLength="3.6" lengthAdjust="spacingAndGlyphs" stroke="#000" stroke-width="0.45">0</text>
<line x1="177.9" y1="220" x2="180.3" y2="220" stroke="#222" stroke-width="1"/>
<text x="176.7" y="222" font-size="5.6" text-anchor="end" font-weight="bold" fill="#111" textLength="10.8" lengthAdjust="spacingAndGlyphs" stroke="#000" stroke-width="0.45">100</text>
<line x1="177.9" y1="204.75" x2="180.3" y2="204.75" stroke="#222" stroke-width="1"/>
<text x="176.7" y="206.75" font-size="5.6" text-anchor="end" font-weight="bold" fill="#111" textLength="10.8" lengthAdjust="spacingAndGlyphs" stroke="#000" stroke-width="0.45">200</text>
<line x1="177.9" y1="189.5" x2="180.3" y2="189.5" stroke="#222" stroke-width="1"/>
<text x="176.7" y="191.5" font-size="5.6" text-anchor="end" font-weight="bold" fill="#111" textLength="10.8" lengthAdjust="spacingAndGlyphs" stroke="#000" stroke-width="0.45">300</text>
<line x1="177.9" y1="174.25" x2="180.3" y2="174.25" stroke="#222" stroke-width="1"/>
<text x="176.7" y="176.25" font-size="5.6" text-anchor="end" font-weight="bold" fill="#111" textLength="10.8" lengthAdjust="spacingAndGlyphs" stroke="#000" stroke-width="0.45">400</text>
<line x1="177.9" y1="159" x2="180.3" y2="159" stroke="#222" stroke-width="1"/>
<text x="176.7" y="161" font-size="5.6" text-anchor="end" font-weight="bold" fill="#111" textLength="10.8" lengthAdjust="spacingAndGlyphs" stroke="#000" stroke-width="0.45">500</text>
<line x1="188.95" y1="219.5" x2="188.95" y2="223.25" stroke="#222" stroke-width="0.9"/>
<line x1="186.35" y1="219.5" x2="191.55" y2="219.5" stroke="#222" stroke-width="0.9"/>
<rect x="183.75" y="223.25" width="10.4" height="12" fill="#8c8c8c" stroke="#333" stroke-width="0.8"/>
<line x1="204.7" y1="206.5" x2="204.7" y2="210.25" stroke="#222" stroke-width="0.9"/>
<line x1="202.1" y1="206.5" x2="207.3" y2="206.5" stroke="#222" stroke-width="0.9"/>
<rect x="199.5" y="210.25" width="10.4" height="25" fill="#000" stroke="#000" stroke-width="0.8"/>
<line x1="220.2" y1="170.25" x2="220.2" y2="190.25" stroke="#222" stroke-width="0.9"/>
<line x1="217.6" y1="170.25" x2="222.8" y2="170.25" stroke="#222" stroke-width="0.9"/>
<rect x="215" y="190.25" width="10.4" height="45" fill="#fff" stroke="#333" stroke-width="0.8"/>
<line x1="179.8" y1="235.25" x2="225.9" y2="235.25" stroke="#222" stroke-width="1.3"/>
<line x1="188.1" y1="159" x2="220.4" y2="159" stroke="#333" stroke-width="0.8"/>
<text x="205" y="159.8" font-size="7" text-anchor="middle" font-weight="bold" fill="#222" stroke="#000" stroke-width="0.22">***</text>
<line x1="204.5" y1="168.25" x2="219.5" y2="168.25" stroke="#333" stroke-width="0.8"/>
<text x="212.5" y="168.3" font-size="7" text-anchor="middle" font-weight="bold" fill="#222" stroke="#000" stroke-width="0.22">*</text>
<text x="160.4" y="196.5" font-size="7" text-anchor="middle" fill="#222" textLength="49" lengthAdjust="spacingAndGlyphs" transform="rotate(-90 160.4 196.5)" stroke="#000" stroke-width="0.22">% increase of MFI</text>
<rect x="172.8" y="240" width="3.4" height="3.4" fill="#8c8c8c" stroke="#555" stroke-width="0.7"/>
<rect x="172.8" y="249" width="3.4" height="3.4" fill="#111" stroke="#111" stroke-width="0.7"/>
<rect x="172.8" y="258" width="3.4" height="3.4" fill="#fff" stroke="#999" stroke-width="0.7"/>
<text x="180" y="244.1" font-size="7.3" textLength="32" lengthAdjust="spacingAndGlyphs" stroke="#000" stroke-width="0.22">Untreated</text>
<text x="180" y="253.1" font-size="7.3" textLength="52.5" lengthAdjust="spacingAndGlyphs" stroke="#000" stroke-width="0.22">CpG-<tspan font-style="italic">Luc</tspan> siRNA</text>
<text x="180" y="262.1" font-size="7.3" textLength="57" lengthAdjust="spacingAndGlyphs" stroke="#000" stroke-width="0.22">CpG-<tspan font-style="italic">Stat3</tspan> siRNA</text>
<text x="472.1" y="147.7" font-size="8" text-anchor="middle" fill="#333" textLength="25" lengthAdjust="spacingAndGlyphs" stroke="#333" stroke-width="0.12">CD86</text>
<line x1="449.2" y1="156.8" x2="449.2" y2="232.4" stroke="#222" stroke-width="1.1"/>
<line x1="446.8" y1="232.4" x2="449.2" y2="232.4" stroke="#222" stroke-width="1"/>
<text x="445.6" y="234.4" font-size="5.6" text-anchor="end" font-weight="bold" fill="#111" textLength="3.6" lengthAdjust="spacingAndGlyphs" stroke="#000" stroke-width="0.45">0</text>
<line x1="446.8" y1="217.28" x2="449.2" y2="217.28" stroke="#222" stroke-width="1"/>
<text x="445.6" y="219.28" font-size="5.6" text-anchor="end" font-weight="bold" fill="#111" textLength="10.8" lengthAdjust="spacingAndGlyphs" stroke="#000" stroke-width="0.45">100</text>
<line x1="446.8" y1="202.16" x2="449.2" y2="202.16" stroke="#222" stroke-width="1"/>
<text x="445.6" y="204.16" font-size="5.6" text-anchor="end" font-weight="bold" fill="#111" textLength="10.8" lengthAdjust="spacingAndGlyphs" stroke="#000" stroke-width="0.45">200</text>
<line x1="446.8" y1="187.04" x2="449.2" y2="187.04" stroke="#222" stroke-width="1"/>
<text x="445.6" y="189.04" font-size="5.6" text-anchor="end" font-weight="bold" fill="#111" textLength="10.8" lengthAdjust="spacingAndGlyphs" stroke="#000" stroke-width="0.45">300</text>
<line x1="446.8" y1="171.92" x2="449.2" y2="171.92" stroke="#222" stroke-width="1"/>
<text x="445.6" y="173.92" font-size="5.6" text-anchor="end" font-weight="bold" fill="#111" textLength="10.8" lengthAdjust="spacingAndGlyphs" stroke="#000" stroke-width="0.45">400</text>
<line x1="446.8" y1="156.8" x2="449.2" y2="156.8" stroke="#222" stroke-width="1"/>
<text x="445.6" y="158.8" font-size="5.6" text-anchor="end" font-weight="bold" fill="#111" textLength="10.8" lengthAdjust="spacingAndGlyphs" stroke="#000" stroke-width="0.45">500</text>
<line x1="457.4" y1="215.25" x2="457.4" y2="218.25" stroke="#222" stroke-width="0.9"/>
<line x1="454.8" y1="215.25" x2="460" y2="215.25" stroke="#222" stroke-width="0.9"/>
<rect x="452.2" y="218.25" width="10.4" height="14.15" fill="#8c8c8c" stroke="#333" stroke-width="0.8"/>
<line x1="472.2" y1="201.5" x2="472.2" y2="211.5" stroke="#222" stroke-width="0.9"/>
<line x1="469.6" y1="201.5" x2="474.8" y2="201.5" stroke="#222" stroke-width="0.9"/>
<rect x="467" y="211.5" width="10.4" height="20.9" fill="#000" stroke="#000" stroke-width="0.8"/>
<line x1="487.5" y1="173.3" x2="487.5" y2="191.1" stroke="#222" stroke-width="0.9"/>
<line x1="484.9" y1="173.3" x2="490.1" y2="173.3" stroke="#222" stroke-width="0.9"/>
<rect x="482.3" y="191.1" width="10.4" height="41.3" fill="#fff" stroke="#333" stroke-width="0.8"/>
<line x1="448.7" y1="232.4" x2="493.2" y2="232.4" stroke="#222" stroke-width="1.3"/>
<line x1="455.5" y1="160.75" x2="487" y2="160.75" stroke="#333" stroke-width="0.8"/>
<text x="473.75" y="160.2" font-size="7" text-anchor="middle" font-weight="bold" fill="#222" stroke="#000" stroke-width="0.22">**</text>
<line x1="471.25" y1="169.5" x2="486.25" y2="169.5" stroke="#333" stroke-width="0.8"/>
<text x="478.75" y="169.8" font-size="7" text-anchor="middle" font-weight="bold" fill="#222" stroke="#000" stroke-width="0.22">*</text>
<text x="429.1" y="194.5" font-size="7" text-anchor="middle" fill="#222" textLength="49" lengthAdjust="spacingAndGlyphs" transform="rotate(-90 429.1 194.5)" stroke="#000" stroke-width="0.22">% increase of MFI</text>
<rect x="442" y="237.7" width="3.4" height="3.4" fill="#8c8c8c" stroke="#555" stroke-width="0.7"/>
<rect x="442" y="246.75" width="3.4" height="3.4" fill="#111" stroke="#111" stroke-width="0.7"/>
<rect x="442" y="255.8" width="3.4" height="3.4" fill="#fff" stroke="#999" stroke-width="0.7"/>
<text x="448.5" y="241.8" font-size="7.3" textLength="32" lengthAdjust="spacingAndGlyphs" stroke="#000" stroke-width="0.22">Untreated</text>
<text x="448.5" y="250.85" font-size="7.3" textLength="52.5" lengthAdjust="spacingAndGlyphs" stroke="#000" stroke-width="0.22">CpG-<tspan font-style="italic">Luc</tspan> siRNA</text>
<text x="448.5" y="259.9" font-size="7.3" textLength="57" lengthAdjust="spacingAndGlyphs" stroke="#000" stroke-width="0.22">CpG-<tspan font-style="italic">Stat3</tspan> siRNA</text>
<text x="207.5" y="290.6" font-size="8" text-anchor="middle" fill="#333" textLength="22.4" lengthAdjust="spacingAndGlyphs" stroke="#333" stroke-width="0.12">PDL1</text>
<line x1="183" y1="299" x2="183" y2="375.75" stroke="#222" stroke-width="1.1"/>
<line x1="180.6" y1="375.75" x2="183" y2="375.75" stroke="#222" stroke-width="1"/>
<text x="179.4" y="377.75" font-size="5.6" text-anchor="end" font-weight="bold" fill="#111" textLength="3.6" lengthAdjust="spacingAndGlyphs" stroke="#000" stroke-width="0.45">0</text>
<line x1="180.6" y1="350.17" x2="183" y2="350.17" stroke="#222" stroke-width="1"/>
<text x="179.4" y="352.17" font-size="5.6" text-anchor="end" font-weight="bold" fill="#111" textLength="7.2" lengthAdjust="spacingAndGlyphs" stroke="#000" stroke-width="0.45">50</text>
<line x1="180.6" y1="324.58" x2="183" y2="324.58" stroke="#222" stroke-width="1"/>
<text x="179.4" y="326.58" font-size="5.6" text-anchor="end" font-weight="bold" fill="#111" textLength="10.8" lengthAdjust="spacingAndGlyphs" stroke="#000" stroke-width="0.45">100</text>
<line x1="180.6" y1="299" x2="183" y2="299" stroke="#222" stroke-width="1"/>
<text x="179.4" y="301" font-size="5.6" text-anchor="end" font-weight="bold" fill="#111" textLength="10.8" lengthAdjust="spacingAndGlyphs" stroke="#000" stroke-width="0.45">150</text>
<line x1="191.45" y1="320.25" x2="191.45" y2="325.25" stroke="#222" stroke-width="0.9"/>
<line x1="188.85" y1="320.25" x2="194.05" y2="320.25" stroke="#222" stroke-width="0.9"/>
<rect x="186.25" y="325.25" width="10.4" height="50.5" fill="#8c8c8c" stroke="#333" stroke-width="0.8"/>
<line x1="207.2" y1="318.5" x2="207.2" y2="328.5" stroke="#222" stroke-width="0.9"/>
<line x1="204.6" y1="318.5" x2="209.8" y2="318.5" stroke="#222" stroke-width="0.9"/>
<rect x="202" y="328.5" width="10.4" height="47.25" fill="#000" stroke="#000" stroke-width="0.8"/>
<line x1="223.2" y1="338" x2="223.2" y2="342.75" stroke="#222" stroke-width="0.9"/>
<line x1="220.6" y1="338" x2="225.8" y2="338" stroke="#222" stroke-width="0.9"/>
<rect x="218" y="342.75" width="10.4" height="33" fill="#fff" stroke="#333" stroke-width="0.8"/>
<line x1="182.5" y1="375.75" x2="228.9" y2="375.75" stroke="#222" stroke-width="1.3"/>
<line x1="191.25" y1="305.75" x2="223" y2="305.75" stroke="#333" stroke-width="0.8"/>
<text x="209.5" y="305.5" font-size="7" text-anchor="middle" font-weight="bold" fill="#222" stroke="#000" stroke-width="0.22">**</text>
<line x1="207.5" y1="314" x2="223" y2="314" stroke="#333" stroke-width="0.8"/>
<text x="215.5" y="314.8" font-size="7" text-anchor="middle" font-weight="bold" fill="#222" stroke="#000" stroke-width="0.22">*</text>
<text x="163.1" y="341" font-size="7" text-anchor="middle" fill="#222" textLength="49" lengthAdjust="spacingAndGlyphs" transform="rotate(-90 163.1 341)" stroke="#000" stroke-width="0.22">% increase of MFI</text>
<rect x="176.6" y="381.7" width="3.4" height="3.4" fill="#8c8c8c" stroke="#555" stroke-width="0.7"/>
<rect x="176.6" y="390.5" width="3.4" height="3.4" fill="#111" stroke="#111" stroke-width="0.7"/>
<rect x="176.6" y="399.3" width="3.4" height="3.4" fill="#fff" stroke="#999" stroke-width="0.7"/>
<text x="183.7" y="385.8" font-size="7.3" textLength="32" lengthAdjust="spacingAndGlyphs" stroke="#000" stroke-width="0.22">Untreated</text>
<text x="183.7" y="394.6" font-size="7.3" textLength="52.5" lengthAdjust="spacingAndGlyphs" stroke="#000" stroke-width="0.22">CpG-<tspan font-style="italic">Luc</tspan> siRNA</text>
<text x="183.7" y="403.4" font-size="7.3" textLength="57" lengthAdjust="spacingAndGlyphs" stroke="#000" stroke-width="0.22">CpG-<tspan font-style="italic">Stat3</tspan> siRNA</text>
<text x="308" y="292.5" font-size="6.8" text-anchor="middle" fill="#333" textLength="12.8" lengthAdjust="spacingAndGlyphs" stroke="#333" stroke-width="0.1">IFN&#947;</text>
<line x1="281.2" y1="300.6" x2="281.2" y2="377" stroke="#222" stroke-width="0.9"/>
<line x1="279" y1="377" x2="281.2" y2="377" stroke="#222" stroke-width="0.9"/>
<text x="278" y="378.9" font-size="5.2" text-anchor="end" font-weight="bold" fill="#111" textLength="3.1" lengthAdjust="spacingAndGlyphs" stroke="#000" stroke-width="0.4">0</text>
<line x1="279" y1="357.9" x2="281.2" y2="357.9" stroke="#222" stroke-width="0.9"/>
<text x="278" y="359.8" font-size="5.2" text-anchor="end" font-weight="bold" fill="#111" textLength="6.2" lengthAdjust="spacingAndGlyphs" stroke="#000" stroke-width="0.4">50</text>
<line x1="279" y1="338.8" x2="281.2" y2="338.8" stroke="#222" stroke-width="0.9"/>
<text x="278" y="340.7" font-size="5.2" text-anchor="end" font-weight="bold" fill="#111" textLength="9.3" lengthAdjust="spacingAndGlyphs" stroke="#000" stroke-width="0.4">100</text>
<line x1="279" y1="319.7" x2="281.2" y2="319.7" stroke="#222" stroke-width="0.9"/>
<text x="278" y="321.6" font-size="5.2" text-anchor="end" font-weight="bold" fill="#111" textLength="9.3" lengthAdjust="spacingAndGlyphs" stroke="#000" stroke-width="0.4">150</text>
<line x1="279" y1="300.6" x2="281.2" y2="300.6" stroke="#222" stroke-width="0.9"/>
<text x="278" y="302.5" font-size="5.2" text-anchor="end" font-weight="bold" fill="#111" textLength="9.3" lengthAdjust="spacingAndGlyphs" stroke="#000" stroke-width="0.4">200</text>
<line x1="281.2" y1="377" x2="335.3" y2="377" stroke="#222" stroke-width="0.9"/>
<circle cx="286.5" cy="376.4" r="1.45" fill="#111"/>
<circle cx="288.5" cy="376.4" r="1.45" fill="#111"/>
<circle cx="290.5" cy="376.4" r="1.45" fill="#111"/>
<circle cx="292.5" cy="376.4" r="1.45" fill="#111"/>
<circle cx="294" cy="376.4" r="1.45" fill="#111"/>
<line x1="285" y1="376.2" x2="295" y2="376.2" stroke="#111" stroke-width="1"/>
<line x1="290" y1="376.2" x2="290" y2="376.2" stroke="#111" stroke-width="0.9"/>
<line x1="287.5" y1="376.2" x2="292.5" y2="376.2" stroke="#111" stroke-width="0.9"/>
<line x1="287.5" y1="376.2" x2="292.5" y2="376.2" stroke="#111" stroke-width="0.9"/>
<rect x="305.6" y="357.2" width="2.8" height="2.8" fill="#111" stroke="none" stroke-width="1"/>
<rect x="308.3" y="359" width="2.8" height="2.8" fill="#111" stroke="none" stroke-width="1"/>
<rect x="302.6" y="373.9" width="2.8" height="2.8" fill="#111" stroke="none" stroke-width="1"/>
<rect x="305.1" y="374.2" width="2.8" height="2.8" fill="#111" stroke="none" stroke-width="1"/>
<rect x="307.6" y="374.2" width="2.8" height="2.8" fill="#111" stroke="none" stroke-width="1"/>
<rect x="310.1" y="373.9" width="2.8" height="2.8" fill="#111" stroke="none" stroke-width="1"/>
<rect x="312.1" y="374.2" width="2.8" height="2.8" fill="#111" stroke="none" stroke-width="1"/>
<line x1="303.3" y1="371.4" x2="314.3" y2="371.4" stroke="#111" stroke-width="1"/>
<line x1="308.8" y1="367.4" x2="308.8" y2="375" stroke="#111" stroke-width="0.9"/>
<line x1="306.05" y1="367.4" x2="311.55" y2="367.4" stroke="#111" stroke-width="0.9"/>
<line x1="306.05" y1="375" x2="311.55" y2="375" stroke="#111" stroke-width="0.9"/>
<path d="M326.1 314.9 L327.8 318 L324.4 318 Z" fill="#111"/>
<path d="M326.3 328.9 L328 332 L324.6 332 Z" fill="#111"/>
<path d="M324 348.6 L325.7 351.7 L322.3 351.7 Z" fill="#111"/>
<path d="M328.5 349.5 L330.2 352.6 L326.8 352.6 Z" fill="#111"/>
<path d="M327.5 354.1 L329.2 357.2 L325.8 357.2 Z" fill="#111"/>
<path d="M325 357.7 L326.7 360.8 L323.3 360.8 Z" fill="#111"/>
<line x1="319.9" y1="344" x2="332.3" y2="344" stroke="#111" stroke-width="1"/>
<line x1="326.1" y1="336.7" x2="326.1" y2="351.3" stroke="#111" stroke-width="0.9"/>
<line x1="323" y1="336.7" x2="329.2" y2="336.7" stroke="#111" stroke-width="0.9"/>
<line x1="323" y1="351.3" x2="329.2" y2="351.3" stroke="#111" stroke-width="0.9"/>
<line x1="290.6" y1="305.2" x2="325.8" y2="305.2" stroke="#333" stroke-width="0.8"/>
<text x="310.6" y="304.2" font-size="5.6" text-anchor="middle" font-weight="bold" fill="#222" stroke="#000" stroke-width="0.22">***</text>
<line x1="307.5" y1="312.1" x2="325.8" y2="312.1" stroke="#333" stroke-width="0.8"/>
<text x="318" y="311.8" font-size="5.6" text-anchor="middle" font-weight="bold" fill="#222" stroke="#000" stroke-width="0.22">**</text>
<text x="264.8" y="339" font-size="4.8" text-anchor="middle" fill="#222" textLength="15" lengthAdjust="spacingAndGlyphs" transform="rotate(-90 264.8 339)" stroke="#000" stroke-width="0.22">pg/ml</text>
<circle cx="280" cy="384.3" r="1.9" fill="#111"/>
<rect x="278.2" y="391.5" width="3.6" height="3.6" fill="#111" stroke="none" stroke-width="1"/>
<path d="M280 400.3 L282.1 404.8 L277.9 404.8 Z" fill="#111"/>
<text x="285.6" y="386.5" font-size="7.3" textLength="32" lengthAdjust="spacingAndGlyphs" stroke="#000" stroke-width="0.22">Untreated</text>
<text x="285.6" y="395.7" font-size="7.3" textLength="52.5" lengthAdjust="spacingAndGlyphs" stroke="#000" stroke-width="0.22">CpG-<tspan font-style="italic">Luc</tspan> siRNA</text>
<text x="285.6" y="404.9" font-size="7.3" textLength="58.2" lengthAdjust="spacingAndGlyphs" stroke="#000" stroke-width="0.22">CpG-<tspan font-style="italic">Stat3</tspan> siRNA</text>
<text x="398" y="292.5" font-size="6.8" text-anchor="middle" fill="#333" textLength="12.8" lengthAdjust="spacingAndGlyphs" stroke="#333" stroke-width="0.1">IL12</text>
<line x1="370.2" y1="300.3" x2="370.2" y2="377.1" stroke="#222" stroke-width="0.9"/>
<line x1="368" y1="377.1" x2="370.2" y2="377.1" stroke="#222" stroke-width="0.9"/>
<text x="367" y="379" font-size="5.2" text-anchor="end" font-weight="bold" fill="#111" textLength="3.1" lengthAdjust="spacingAndGlyphs" stroke="#000" stroke-width="0.4">0</text>
<line x1="368" y1="357.9" x2="370.2" y2="357.9" stroke="#222" stroke-width="0.9"/>
<text x="367" y="359.8" font-size="5.2" text-anchor="end" font-weight="bold" fill="#111" textLength="9.3" lengthAdjust="spacingAndGlyphs" stroke="#000" stroke-width="0.4">200</text>
<line x1="368" y1="338.7" x2="370.2" y2="338.7" stroke="#222" stroke-width="0.9"/>
<text x="367" y="340.6" font-size="5.2" text-anchor="end" font-weight="bold" fill="#111" textLength="9.3" lengthAdjust="spacingAndGlyphs" stroke="#000" stroke-width="0.4">400</text>
<line x1="368" y1="319.5" x2="370.2" y2="319.5" stroke="#222" stroke-width="0.9"/>
<text x="367" y="321.4" font-size="5.2" text-anchor="end" font-weight="bold" fill="#111" textLength="9.3" lengthAdjust="spacingAndGlyphs" stroke="#000" stroke-width="0.4">600</text>
<line x1="368" y1="300.3" x2="370.2" y2="300.3" stroke="#222" stroke-width="0.9"/>
<text x="367" y="302.2" font-size="5.2" text-anchor="end" font-weight="bold" fill="#111" textLength="9.3" lengthAdjust="spacingAndGlyphs" stroke="#000" stroke-width="0.4">800</text>
<line x1="370.2" y1="377.1" x2="425.3" y2="377.1" stroke="#222" stroke-width="0.9"/>
<circle cx="375.9" cy="353.6" r="1.45" fill="#111"/>
<circle cx="378.9" cy="358" r="1.45" fill="#111"/>
<circle cx="381.9" cy="356.5" r="1.45" fill="#111"/>
<circle cx="380.7" cy="362.2" r="1.45" fill="#111"/>
<circle cx="379.5" cy="369.3" r="1.45" fill="#111"/>
<circle cx="377.7" cy="359.8" r="1.45" fill="#111"/>
<line x1="374" y1="359.2" x2="385.4" y2="359.2" stroke="#111" stroke-width="1"/>
<line x1="379.7" y1="356.2" x2="379.7" y2="362.2" stroke="#111" stroke-width="0.9"/>
<line x1="376.85" y1="356.2" x2="382.55" y2="356.2" stroke="#111" stroke-width="0.9"/>
<line x1="376.85" y1="362.2" x2="382.55" y2="362.2" stroke="#111" stroke-width="0.9"/>
<rect x="394.4" y="332.3" width="2.8" height="2.8" fill="#111" stroke="none" stroke-width="1"/>
<rect x="397.9" y="335.9" width="2.8" height="2.8" fill="#111" stroke="none" stroke-width="1"/>
<rect x="396.5" y="352.5" width="2.8" height="2.8" fill="#111" stroke="none" stroke-width="1"/>
<rect x="398" y="353.9" width="2.8" height="2.8" fill="#111" stroke="none" stroke-width="1"/>
<rect x="394.4" y="356.6" width="2.8" height="2.8" fill="#111" stroke="none" stroke-width="1"/>
<line x1="391.8" y1="347.7" x2="403.8" y2="347.7" stroke="#111" stroke-width="1"/>
<line x1="397.8" y1="343.8" x2="397.8" y2="351.5" stroke="#111" stroke-width="0.9"/>
<line x1="394.8" y1="343.8" x2="400.8" y2="343.8" stroke="#111" stroke-width="0.9"/>
<line x1="394.8" y1="351.5" x2="400.8" y2="351.5" stroke="#111" stroke-width="0.9"/>
<path d="M415.6 315.3 L417.3 318.4 L413.9 318.4 Z" fill="#111"/>
<path d="M411.5 331.9 L413.2 335 L409.8 335 Z" fill="#111"/>
<path d="M414 330.2 L415.7 333.3 L412.3 333.3 Z" fill="#111"/>
<path d="M417.5 329.7 L419.2 332.8 L415.8 332.8 Z" fill="#111"/>
<path d="M413.9 334.9 L415.6 338 L412.2 338 Z" fill="#111"/>
<path d="M417.4 334.9 L419.1 338 L415.7 338 Z" fill="#111"/>
<path d="M419.8 331.9 L421.5 335 L418.1 335 Z" fill="#111"/>
<line x1="410.3" y1="331.9" x2="421.7" y2="331.9" stroke="#111" stroke-width="1"/>
<line x1="416" y1="328.4" x2="416" y2="334.9" stroke="#111" stroke-width="0.9"/>
<line x1="413.15" y1="328.4" x2="418.85" y2="328.4" stroke="#111" stroke-width="0.9"/>
<line x1="413.15" y1="334.9" x2="418.85" y2="334.9" stroke="#111" stroke-width="0.9"/>
<line x1="379.7" y1="304.8" x2="415.2" y2="304.8" stroke="#333" stroke-width="0.8"/>
<text x="400.1" y="303.8" font-size="5.6" text-anchor="middle" font-weight="bold" fill="#222" stroke="#000" stroke-width="0.22">***</text>
<line x1="397" y1="312.1" x2="415.2" y2="312.1" stroke="#333" stroke-width="0.8"/>
<text x="407" y="311.8" font-size="5.6" text-anchor="middle" font-weight="bold" fill="#222" stroke="#000" stroke-width="0.22">**</text>
<text x="354.8" y="338.5" font-size="4.8" text-anchor="middle" fill="#222" textLength="15" lengthAdjust="spacingAndGlyphs" transform="rotate(-90 354.8 338.5)" stroke="#000" stroke-width="0.22">pg/ml</text>
<circle cx="368" cy="384.3" r="1.9" fill="#111"/>
<rect x="366.2" y="391.5" width="3.6" height="3.6" fill="#111" stroke="none" stroke-width="1"/>
<path d="M368 400.3 L370.1 404.8 L365.9 404.8 Z" fill="#111"/>
<text x="373.5" y="386.5" font-size="7.3" textLength="32" lengthAdjust="spacingAndGlyphs" stroke="#000" stroke-width="0.22">Untreated</text>
<text x="373.5" y="395.7" font-size="7.3" textLength="52.5" lengthAdjust="spacingAndGlyphs" stroke="#000" stroke-width="0.22">CpG-<tspan font-style="italic">Luc</tspan> siRNA</text>
<text x="373.5" y="404.9" font-size="7.3" textLength="58.2" lengthAdjust="spacingAndGlyphs" stroke="#000" stroke-width="0.22">CpG-<tspan font-style="italic">Stat3</tspan> siRNA</text>
<text x="485.2" y="291.5" font-size="6.8" text-anchor="middle" fill="#333" textLength="23.7" lengthAdjust="spacingAndGlyphs" stroke="#333" stroke-width="0.1">CXCL9</text>
<line x1="457.8" y1="300.3" x2="457.8" y2="377.1" stroke="#222" stroke-width="0.9"/>
<line x1="455.6" y1="377.1" x2="457.8" y2="377.1" stroke="#222" stroke-width="0.9"/>
<text x="454.6" y="379" font-size="5.2" text-anchor="end" font-weight="bold" fill="#111" textLength="3.1" lengthAdjust="spacingAndGlyphs" stroke="#000" stroke-width="0.4">0</text>
<line x1="455.6" y1="361.74" x2="457.8" y2="361.74" stroke="#222" stroke-width="0.9"/>
<text x="454.6" y="363.64" font-size="5.2" text-anchor="end" font-weight="bold" fill="#111" textLength="9.3" lengthAdjust="spacingAndGlyphs" stroke="#000" stroke-width="0.4">500</text>
<line x1="455.6" y1="346.38" x2="457.8" y2="346.38" stroke="#222" stroke-width="0.9"/>
<text x="454.6" y="348.28" font-size="5.2" text-anchor="end" font-weight="bold" fill="#111" textLength="12.4" lengthAdjust="spacingAndGlyphs" stroke="#000" stroke-width="0.4">1000</text>
<line x1="455.6" y1="331.02" x2="457.8" y2="331.02" stroke="#222" stroke-width="0.9"/>
<text x="454.6" y="332.92" font-size="5.2" text-anchor="end" font-weight="bold" fill="#111" textLength="12.4" lengthAdjust="spacingAndGlyphs" stroke="#000" stroke-width="0.4">1500</text>
<line x1="455.6" y1="315.66" x2="457.8" y2="315.66" stroke="#222" stroke-width="0.9"/>
<text x="454.6" y="317.56" font-size="5.2" text-anchor="end" font-weight="bold" fill="#111" textLength="12.4" lengthAdjust="spacingAndGlyphs" stroke="#000" stroke-width="0.4">2000</text>
<line x1="455.6" y1="300.3" x2="457.8" y2="300.3" stroke="#222" stroke-width="0.9"/>
<text x="454.6" y="302.2" font-size="5.2" text-anchor="end" font-weight="bold" fill="#111" textLength="12.4" lengthAdjust="spacingAndGlyphs" stroke="#000" stroke-width="0.4">2500</text>
<line x1="457.8" y1="377.1" x2="512" y2="377.1" stroke="#222" stroke-width="0.9"/>
<circle cx="465" cy="352.3" r="1.45" fill="#111"/>
<circle cx="468.1" cy="352.7" r="1.45" fill="#111"/>
<circle cx="466.5" cy="366.2" r="1.45" fill="#111"/>
<circle cx="465" cy="373.5" r="1.45" fill="#111"/>
<circle cx="468.1" cy="373.1" r="1.45" fill="#111"/>
<line x1="461.1" y1="362.9" x2="471.9" y2="362.9" stroke="#111" stroke-width="1"/>
<line x1="466.5" y1="359.2" x2="466.5" y2="366.9" stroke="#111" stroke-width="0.9"/>
<line x1="463.8" y1="359.2" x2="469.2" y2="359.2" stroke="#111" stroke-width="0.9"/>
<line x1="463.8" y1="366.9" x2="469.2" y2="366.9" stroke="#111" stroke-width="0.9"/>
<rect x="482.9" y="332.1" width="2.8" height="2.8" fill="#111" stroke="none" stroke-width="1"/>
<rect x="482.9" y="340.9" width="2.8" height="2.8" fill="#111" stroke="none" stroke-width="1"/>
<rect x="482.9" y="350.9" width="2.8" height="2.8" fill="#111" stroke="none" stroke-width="1"/>
<rect x="482.9" y="362.2" width="2.8" height="2.8" fill="#111" stroke="none" stroke-width="1"/>
<rect x="482.9" y="371.7" width="2.8" height="2.8" fill="#111" stroke="none" stroke-width="1"/>
<line x1="478.8" y1="353.2" x2="490.2" y2="353.2" stroke="#111" stroke-width="1"/>
<line x1="484.5" y1="347.7" x2="484.5" y2="359.1" stroke="#111" stroke-width="0.9"/>
<line x1="481.65" y1="347.7" x2="487.35" y2="347.7" stroke="#111" stroke-width="0.9"/>
<line x1="481.65" y1="359.1" x2="487.35" y2="359.1" stroke="#111" stroke-width="0.9"/>
<path d="M502.4 311.7 L504.1 314.8 L500.7 314.8 Z" fill="#111"/>
<path d="M503.1 319.6 L504.8 322.7 L501.4 322.7 Z" fill="#111"/>
<path d="M502 321.2 L503.7 324.3 L500.3 324.3 Z" fill="#111"/>
<path d="M501.3 323.7 L503 326.8 L499.6 326.8 Z" fill="#111"/>
<path d="M502.4 340.2 L504.1 343.3 L500.7 343.3 Z" fill="#111"/>
<path d="M502.4 344.3 L504.1 347.4 L500.7 347.4 Z" fill="#111"/>
<line x1="497.2" y1="328.3" x2="508.6" y2="328.3" stroke="#111" stroke-width="1"/>
<line x1="502.9" y1="322.1" x2="502.9" y2="333.8" stroke="#111" stroke-width="0.9"/>
<line x1="500.05" y1="322.1" x2="505.75" y2="322.1" stroke="#111" stroke-width="0.9"/>
<line x1="500.05" y1="333.8" x2="505.75" y2="333.8" stroke="#111" stroke-width="0.9"/>
<line x1="466.5" y1="303" x2="502.3" y2="303" stroke="#333" stroke-width="0.8"/>
<text x="486.6" y="302.4" font-size="5.6" text-anchor="middle" font-weight="bold" fill="#222" stroke="#000" stroke-width="0.22">***</text>
<line x1="483.2" y1="310.2" x2="502" y2="310.2" stroke="#333" stroke-width="0.8"/>
<text x="492.3" y="310.2" font-size="5.6" text-anchor="middle" font-weight="bold" fill="#222" stroke="#000" stroke-width="0.22">*</text>
<text x="441.3" y="338.8" font-size="4.8" text-anchor="middle" fill="#222" textLength="15" lengthAdjust="spacingAndGlyphs" transform="rotate(-90 441.3 338.8)" stroke="#000" stroke-width="0.22">pg/ml</text>
<circle cx="455" cy="384.3" r="1.9" fill="#111"/>
<rect x="453.2" y="391.5" width="3.6" height="3.6" fill="#111" stroke="none" stroke-width="1"/>
<path d="M455 400.3 L457.1 404.8 L452.9 404.8 Z" fill="#111"/>
<text x="460.6" y="386.5" font-size="7.3" textLength="32" lengthAdjust="spacingAndGlyphs" stroke="#000" stroke-width="0.22">Untreated</text>
<text x="460.6" y="395.7" font-size="7.3" textLength="52.5" lengthAdjust="spacingAndGlyphs" stroke="#000" stroke-width="0.22">CpG-<tspan font-style="italic">Luc</tspan> siRNA</text>
<text x="460.6" y="404.9" font-size="7.3" textLength="58.2" lengthAdjust="spacingAndGlyphs" stroke="#000" stroke-width="0.22">CpG-<tspan font-style="italic">Stat3</tspan> siRNA</text>
<text x="53.25" y="431" font-size="6.8" text-anchor="middle" fill="#333" textLength="9.5" lengthAdjust="spacingAndGlyphs" stroke="#333" stroke-width="0.1">IL4</text>
<line x1="25.9" y1="440.3" x2="25.9" y2="516.3" stroke="#222" stroke-width="0.9"/>
<line x1="23.7" y1="516.3" x2="25.9" y2="516.3" stroke="#222" stroke-width="0.9"/>
<text x="22.7" y="518.2" font-size="5.2" text-anchor="end" font-weight="bold" fill="#111" textLength="3.1" lengthAdjust="spacingAndGlyphs" stroke="#000" stroke-width="0.4">0</text>
<line x1="23.7" y1="497.3" x2="25.9" y2="497.3" stroke="#222" stroke-width="0.9"/>
<text x="22.7" y="499.2" font-size="5.2" text-anchor="end" font-weight="bold" fill="#111" textLength="9.3" lengthAdjust="spacingAndGlyphs" stroke="#000" stroke-width="0.4">100</text>
<line x1="23.7" y1="478.3" x2="25.9" y2="478.3" stroke="#222" stroke-width="0.9"/>
<text x="22.7" y="480.2" font-size="5.2" text-anchor="end" font-weight="bold" fill="#111" textLength="9.3" lengthAdjust="spacingAndGlyphs" stroke="#000" stroke-width="0.4">200</text>
<line x1="23.7" y1="459.3" x2="25.9" y2="459.3" stroke="#222" stroke-width="0.9"/>
<text x="22.7" y="461.2" font-size="5.2" text-anchor="end" font-weight="bold" fill="#111" textLength="9.3" lengthAdjust="spacingAndGlyphs" stroke="#000" stroke-width="0.4">300</text>
<line x1="23.7" y1="440.3" x2="25.9" y2="440.3" stroke="#222" stroke-width="0.9"/>
<text x="22.7" y="442.2" font-size="5.2" text-anchor="end" font-weight="bold" fill="#111" textLength="9.3" lengthAdjust="spacingAndGlyphs" stroke="#000" stroke-width="0.4">400</text>
<line x1="25.9" y1="516.3" x2="81.7" y2="516.3" stroke="#222" stroke-width="0.9"/>
<circle cx="35.6" cy="454.3" r="1.45" fill="#111"/>
<circle cx="35.6" cy="459" r="1.45" fill="#111"/>
<circle cx="32.1" cy="485.9" r="1.45" fill="#111"/>
<circle cx="34.4" cy="487.5" r="1.45" fill="#111"/>
<circle cx="37.5" cy="486.4" r="1.45" fill="#111"/>
<circle cx="35.6" cy="505.5" r="1.45" fill="#111"/>
<line x1="29.8" y1="479.4" x2="41.4" y2="479.4" stroke="#111" stroke-width="1"/>
<line x1="35.6" y1="471.7" x2="35.6" y2="487.2" stroke="#111" stroke-width="0.9"/>
<line x1="32.7" y1="471.7" x2="38.5" y2="471.7" stroke="#111" stroke-width="0.9"/>
<line x1="32.7" y1="487.2" x2="38.5" y2="487.2" stroke="#111" stroke-width="0.9"/>
<rect x="52.1" y="450.9" width="2.8" height="2.8" fill="#111" stroke="none" stroke-width="1"/>
<rect x="52.1" y="474.6" width="2.8" height="2.8" fill="#111" stroke="none" stroke-width="1"/>
<rect x="51.1" y="478.8" width="2.8" height="2.8" fill="#111" stroke="none" stroke-width="1"/>
<rect x="53.2" y="478" width="2.8" height="2.8" fill="#111" stroke="none" stroke-width="1"/>
<rect x="52.1" y="503.3" width="2.8" height="2.8" fill="#111" stroke="none" stroke-width="1"/>
<rect x="52.1" y="509.8" width="2.8" height="2.8" fill="#111" stroke="none" stroke-width="1"/>
<line x1="47.6" y1="484.1" x2="59.2" y2="484.1" stroke="#111" stroke-width="1"/>
<line x1="53.4" y1="475.5" x2="53.4" y2="492.6" stroke="#111" stroke-width="0.9"/>
<line x1="50.5" y1="475.5" x2="56.3" y2="475.5" stroke="#111" stroke-width="0.9"/>
<line x1="50.5" y1="492.6" x2="56.3" y2="492.6" stroke="#111" stroke-width="0.9"/>
<path d="M71.6 501.2 L73.3 504.3 L69.9 504.3 Z" fill="#111"/>
<path d="M74.7 506.3 L76.4 509.4 L73 509.4 Z" fill="#111"/>
<path d="M70.1 508.6 L71.8 511.7 L68.4 511.7 Z" fill="#111"/>
<path d="M69.8 514.4 L71.5 517.5 L68.1 517.5 Z" fill="#111"/>
<path d="M73.2 514.4 L74.9 517.5 L71.5 517.5 Z" fill="#111"/>
<line x1="66.2" y1="510.9" x2="77" y2="510.9" stroke="#111" stroke-width="1"/>
<line x1="71.6" y1="508.9" x2="71.6" y2="512.7" stroke="#111" stroke-width="0.9"/>
<line x1="68.9" y1="508.9" x2="74.3" y2="508.9" stroke="#111" stroke-width="0.9"/>
<line x1="68.9" y1="512.7" x2="74.3" y2="512.7" stroke="#111" stroke-width="0.9"/>
<line x1="36.3" y1="441.6" x2="71.6" y2="441.6" stroke="#333" stroke-width="0.8"/>
<text x="53.5" y="440.6" font-size="5.6" text-anchor="middle" font-weight="bold" fill="#222" stroke="#000" stroke-width="0.22">*</text>
<line x1="53.8" y1="449" x2="71.3" y2="449" stroke="#333" stroke-width="0.8"/>
<text x="61.8" y="449" font-size="5.6" text-anchor="middle" font-weight="bold" fill="#222" stroke="#000" stroke-width="0.22">*</text>
<text x="11.1" y="478.6" font-size="4.8" text-anchor="middle" fill="#222" textLength="15" lengthAdjust="spacingAndGlyphs" transform="rotate(-90 11.1 478.6)" stroke="#000" stroke-width="0.22">pg/ml</text>
<circle cx="22.9" cy="524" r="1.9" fill="#111"/>
<rect x="21.1" y="531.6" width="3.6" height="3.6" fill="#111" stroke="none" stroke-width="1"/>
<path d="M22.9 540.8 L25 545.3 L20.8 545.3 Z" fill="#111"/>
<text x="28.9" y="526.2" font-size="7.3" textLength="31.3" lengthAdjust="spacingAndGlyphs" stroke="#000" stroke-width="0.22">Untreated</text>
<text x="28.9" y="535.8" font-size="7.3" textLength="52.5" lengthAdjust="spacingAndGlyphs" stroke="#000" stroke-width="0.22">CpG-<tspan font-style="italic">Luc</tspan> siRNA</text>
<text x="28.9" y="545.4" font-size="7.3" textLength="58.2" lengthAdjust="spacingAndGlyphs" stroke="#000" stroke-width="0.22">CpG-<tspan font-style="italic">Stat3</tspan> siRNA</text>
<text x="137.85" y="431" font-size="6.8" text-anchor="middle" fill="#333" textLength="9.5" lengthAdjust="spacingAndGlyphs" stroke="#333" stroke-width="0.1">IL6</text>
<line x1="109.7" y1="440.5" x2="109.7" y2="516.3" stroke="#222" stroke-width="0.9"/>
<line x1="107.5" y1="516.3" x2="109.7" y2="516.3" stroke="#222" stroke-width="0.9"/>
<text x="106.5" y="518.2" font-size="5.2" text-anchor="end" font-weight="bold" fill="#111" textLength="3.1" lengthAdjust="spacingAndGlyphs" stroke="#000" stroke-width="0.4">0</text>
<line x1="107.5" y1="497.35" x2="109.7" y2="497.35" stroke="#222" stroke-width="0.9"/>
<text x="106.5" y="499.25" font-size="5.2" text-anchor="end" font-weight="bold" fill="#111" textLength="9.3" lengthAdjust="spacingAndGlyphs" stroke="#000" stroke-width="0.4">100</text>
<line x1="107.5" y1="478.4" x2="109.7" y2="478.4" stroke="#222" stroke-width="0.9"/>
<text x="106.5" y="480.3" font-size="5.2" text-anchor="end" font-weight="bold" fill="#111" textLength="9.3" lengthAdjust="spacingAndGlyphs" stroke="#000" stroke-width="0.4">200</text>
<line x1="107.5" y1="459.45" x2="109.7" y2="459.45" stroke="#222" stroke-width="0.9"/>
<text x="106.5" y="461.35" font-size="5.2" text-anchor="end" font-weight="bold" fill="#111" textLength="9.3" lengthAdjust="spacingAndGlyphs" stroke="#000" stroke-width="0.4">300</text>
<line x1="107.5" y1="440.5" x2="109.7" y2="440.5" stroke="#222" stroke-width="0.9"/>
<text x="106.5" y="442.4" font-size="5.2" text-anchor="end" font-weight="bold" fill="#111" textLength="9.3" lengthAdjust="spacingAndGlyphs" stroke="#000" stroke-width="0.4">400</text>
<line x1="109.7" y1="516.3" x2="164.7" y2="516.3" stroke="#222" stroke-width="0.9"/>
<circle cx="119" cy="457.7" r="1.45" fill="#111"/>
<circle cx="117.7" cy="472" r="1.45" fill="#111"/>
<circle cx="120.5" cy="474.4" r="1.45" fill="#111"/>
<circle cx="119" cy="483.3" r="1.45" fill="#111"/>
<circle cx="119.3" cy="494.1" r="1.45" fill="#111"/>
<circle cx="119.3" cy="498" r="1.45" fill="#111"/>
<line x1="113.5" y1="480.2" x2="124.9" y2="480.2" stroke="#111" stroke-width="1"/>
<line x1="119.2" y1="474" x2="119.2" y2="485.9" stroke="#111" stroke-width="0.9"/>
<line x1="116.35" y1="474" x2="122.05" y2="474" stroke="#111" stroke-width="0.9"/>
<line x1="116.35" y1="485.9" x2="122.05" y2="485.9" stroke="#111" stroke-width="0.9"/>
<rect x="133.1" y="461.3" width="2.8" height="2.8" fill="#111" stroke="none" stroke-width="1"/>
<rect x="136.2" y="465.3" width="2.8" height="2.8" fill="#111" stroke="none" stroke-width="1"/>
<rect x="139.6" y="465.3" width="2.8" height="2.8" fill="#111" stroke="none" stroke-width="1"/>
<rect x="136.2" y="480.3" width="2.8" height="2.8" fill="#111" stroke="none" stroke-width="1"/>
<rect x="134.6" y="497.4" width="2.8" height="2.8" fill="#111" stroke="none" stroke-width="1"/>
<rect x="138" y="496.6" width="2.8" height="2.8" fill="#111" stroke="none" stroke-width="1"/>
<line x1="132.1" y1="479.1" x2="143.5" y2="479.1" stroke="#111" stroke-width="1"/>
<line x1="137.8" y1="472.4" x2="137.8" y2="485.3" stroke="#111" stroke-width="0.9"/>
<line x1="134.95" y1="472.4" x2="140.65" y2="472.4" stroke="#111" stroke-width="0.9"/>
<line x1="134.95" y1="485.3" x2="140.65" y2="485.3" stroke="#111" stroke-width="0.9"/>
<path d="M156.2 479.9 L157.9 483 L154.5 483 Z" fill="#111"/>
<path d="M155.4 507.8 L157.1 510.9 L153.7 510.9 Z" fill="#111"/>
<path d="M158.5 510.2 L160.2 513.3 L156.8 513.3 Z" fill="#111"/>
<path d="M154.3 514.4 L156 517.5 L152.6 517.5 Z" fill="#111"/>
<path d="M157 509.2 L158.7 512.3 L155.3 512.3 Z" fill="#111"/>
<line x1="150.8" y1="507.3" x2="162.4" y2="507.3" stroke="#111" stroke-width="1"/>
<line x1="156.6" y1="501.9" x2="156.6" y2="512.7" stroke="#111" stroke-width="0.9"/>
<line x1="153.7" y1="501.9" x2="159.5" y2="501.9" stroke="#111" stroke-width="0.9"/>
<line x1="153.7" y1="512.7" x2="159.5" y2="512.7" stroke="#111" stroke-width="0.9"/>
<line x1="119.3" y1="444.5" x2="154.9" y2="444.5" stroke="#333" stroke-width="0.8"/>
<text x="136" y="443.7" font-size="5.6" text-anchor="middle" font-weight="bold" fill="#222" stroke="#000" stroke-width="0.22">*</text>
<line x1="136.8" y1="451.5" x2="154.3" y2="451.5" stroke="#333" stroke-width="0.8"/>
<text x="144.5" y="452.1" font-size="5.6" text-anchor="middle" font-weight="bold" fill="#222" stroke="#000" stroke-width="0.22">*</text>
<text x="95.6" y="478.5" font-size="4.8" text-anchor="middle" fill="#222" textLength="15" lengthAdjust="spacingAndGlyphs" transform="rotate(-90 95.6 478.5)" stroke="#000" stroke-width="0.22">pg/ml</text>
<circle cx="107.9" cy="524" r="1.9" fill="#111"/>
<rect x="106.1" y="531.6" width="3.6" height="3.6" fill="#111" stroke="none" stroke-width="1"/>
<path d="M107.9 540.8 L110 545.3 L105.8 545.3 Z" fill="#111"/>
<text x="113.9" y="526.2" font-size="7.3" textLength="31.3" lengthAdjust="spacingAndGlyphs" stroke="#000" stroke-width="0.22">Untreated</text>
<text x="113.9" y="535.8" font-size="7.3" textLength="52.5" lengthAdjust="spacingAndGlyphs" stroke="#000" stroke-width="0.22">CpG-<tspan font-style="italic">Luc</tspan> siRNA</text>
<text x="113.9" y="545.4" font-size="7.3" textLength="58.2" lengthAdjust="spacingAndGlyphs" stroke="#000" stroke-width="0.22">CpG-<tspan font-style="italic">Stat3</tspan> siRNA</text>
<text x="252.9" y="444.3" font-size="7.2" textLength="32.5" lengthAdjust="spacingAndGlyphs" stroke="#000" stroke-width="0.22">Untreated</text>
<path d="M222.2 512.3 L245.4 511.9 L251.4 511.3 L257.5 512.3 L261.5 512.1 L264.6 508.7 L267.6 504.7 L269.6 500.6 L271.6 499.2 L273.7 494.6 L275.7 492.6 L277.7 489.5 L279.3 481.4 L280.3 465.3 L281.3 454.2 L282.7 463.3 L284.2 481.4 L285.8 497.6 L287.4 502.6 L289.8 501.6 L292.8 503.7 L295.9 507.7 L298.9 510.7 L301.9 512.1 L305.4 512.3" fill="none" stroke="#111" stroke-width="1.15" stroke-linejoin="round"/>
<line x1="221.5" y1="449.6" x2="306" y2="449.6" stroke="#777" stroke-width="0.6"/>
<line x1="306" y1="449.6" x2="306" y2="513" stroke="#777" stroke-width="0.6"/>
<line x1="221.5" y1="449.6" x2="221.5" y2="513" stroke="#333" stroke-width="0.8"/>
<line x1="221.5" y1="513" x2="306" y2="513" stroke="#333" stroke-width="0.8"/>
<line x1="219.5" y1="512.2" x2="221.5" y2="512.2" stroke="#333" stroke-width="0.6"/>
<text x="218.7" y="513.4" font-size="3.4" text-anchor="end" font-weight="bold" fill="#333" stroke="#000" stroke-width="0.22">0</text>
<line x1="220.5" y1="509.86" x2="221.5" y2="509.86" stroke="#666" stroke-width="0.4"/>
<line x1="220.5" y1="507.52" x2="221.5" y2="507.52" stroke="#666" stroke-width="0.4"/>
<line x1="220.5" y1="505.18" x2="221.5" y2="505.18" stroke="#666" stroke-width="0.4"/>
<line x1="220.5" y1="502.84" x2="221.5" y2="502.84" stroke="#666" stroke-width="0.4"/>
<line x1="219.5" y1="500.5" x2="221.5" y2="500.5" stroke="#333" stroke-width="0.6"/>
<text x="218.7" y="501.7" font-size="3.4" text-anchor="end" font-weight="bold" fill="#333" stroke="#000" stroke-width="0.22">20</text>
<line x1="220.5" y1="498.16" x2="221.5" y2="498.16" stroke="#666" stroke-width="0.4"/>
<line x1="220.5" y1="495.82" x2="221.5" y2="495.82" stroke="#666" stroke-width="0.4"/>
<line x1="220.5" y1="493.48" x2="221.5" y2="493.48" stroke="#666" stroke-width="0.4"/>
<line x1="220.5" y1="491.14" x2="221.5" y2="491.14" stroke="#666" stroke-width="0.4"/>
<line x1="219.5" y1="488.8" x2="221.5" y2="488.8" stroke="#333" stroke-width="0.6"/>
<text x="218.7" y="490" font-size="3.4" text-anchor="end" font-weight="bold" fill="#333" stroke="#000" stroke-width="0.22">40</text>
<line x1="220.5" y1="486.46" x2="221.5" y2="486.46" stroke="#666" stroke-width="0.4"/>
<line x1="220.5" y1="484.12" x2="221.5" y2="484.12" stroke="#666" stroke-width="0.4"/>
<line x1="220.5" y1="481.78" x2="221.5" y2="481.78" stroke="#666" stroke-width="0.4"/>
<line x1="220.5" y1="479.44" x2="221.5" y2="479.44" stroke="#666" stroke-width="0.4"/>
<line x1="219.5" y1="477.1" x2="221.5" y2="477.1" stroke="#333" stroke-width="0.6"/>
<text x="218.7" y="478.3" font-size="3.4" text-anchor="end" font-weight="bold" fill="#333" stroke="#000" stroke-width="0.22">60</text>
<line x1="220.5" y1="474.76" x2="221.5" y2="474.76" stroke="#666" stroke-width="0.4"/>
<line x1="220.5" y1="472.42" x2="221.5" y2="472.42" stroke="#666" stroke-width="0.4"/>
<line x1="220.5" y1="470.08" x2="221.5" y2="470.08" stroke="#666" stroke-width="0.4"/>
<line x1="220.5" y1="467.74" x2="221.5" y2="467.74" stroke="#666" stroke-width="0.4"/>
<line x1="219.5" y1="465.4" x2="221.5" y2="465.4" stroke="#333" stroke-width="0.6"/>
<text x="218.7" y="466.6" font-size="3.4" text-anchor="end" font-weight="bold" fill="#333" stroke="#000" stroke-width="0.22">80</text>
<line x1="220.5" y1="463.06" x2="221.5" y2="463.06" stroke="#666" stroke-width="0.4"/>
<line x1="220.5" y1="460.72" x2="221.5" y2="460.72" stroke="#666" stroke-width="0.4"/>
<line x1="220.5" y1="458.38" x2="221.5" y2="458.38" stroke="#666" stroke-width="0.4"/>
<line x1="220.5" y1="456.04" x2="221.5" y2="456.04" stroke="#666" stroke-width="0.4"/>
<line x1="219.5" y1="453.7" x2="221.5" y2="453.7" stroke="#333" stroke-width="0.6"/>
<text x="218.7" y="454.9" font-size="3.4" text-anchor="end" font-weight="bold" fill="#333" stroke="#000" stroke-width="0.22">100</text>
<line x1="227" y1="513" x2="227" y2="514.8" stroke="#333" stroke-width="0.6"/>
<line x1="232.33" y1="513" x2="232.33" y2="513.9" stroke="#666" stroke-width="0.4"/>
<line x1="235.45" y1="513" x2="235.45" y2="513.9" stroke="#666" stroke-width="0.4"/>
<line x1="237.66" y1="513" x2="237.66" y2="513.9" stroke="#666" stroke-width="0.4"/>
<line x1="239.37" y1="513" x2="239.37" y2="513.9" stroke="#666" stroke-width="0.4"/>
<line x1="240.77" y1="513" x2="240.77" y2="513.9" stroke="#666" stroke-width="0.4"/>
<line x1="241.96" y1="513" x2="241.96" y2="513.9" stroke="#666" stroke-width="0.4"/>
<line x1="242.98" y1="513" x2="242.98" y2="513.9" stroke="#666" stroke-width="0.4"/>
<line x1="243.89" y1="513" x2="243.89" y2="513.9" stroke="#666" stroke-width="0.4"/>
<text x="225" y="520" font-size="3.6" font-weight="bold" fill="#333" stroke="#000" stroke-width="0.22">10</text>
<text x="229.1" y="518.4" font-size="2.6" font-weight="bold" fill="#333" stroke="#000" stroke-width="0.22">0</text>
<line x1="244.7" y1="513" x2="244.7" y2="514.8" stroke="#333" stroke-width="0.6"/>
<line x1="250.81" y1="513" x2="250.81" y2="513.9" stroke="#666" stroke-width="0.4"/>
<line x1="254.39" y1="513" x2="254.39" y2="513.9" stroke="#666" stroke-width="0.4"/>
<line x1="256.92" y1="513" x2="256.92" y2="513.9" stroke="#666" stroke-width="0.4"/>
<line x1="258.89" y1="513" x2="258.89" y2="513.9" stroke="#666" stroke-width="0.4"/>
<line x1="260.5" y1="513" x2="260.5" y2="513.9" stroke="#666" stroke-width="0.4"/>
<line x1="261.86" y1="513" x2="261.86" y2="513.9" stroke="#666" stroke-width="0.4"/>
<line x1="263.03" y1="513" x2="263.03" y2="513.9" stroke="#666" stroke-width="0.4"/>
<line x1="264.07" y1="513" x2="264.07" y2="513.9" stroke="#666" stroke-width="0.4"/>
<text x="242.7" y="520" font-size="3.6" font-weight="bold" fill="#333" stroke="#000" stroke-width="0.22">10</text>
<text x="246.8" y="518.4" font-size="2.6" font-weight="bold" fill="#333" stroke="#000" stroke-width="0.22">1</text>
<line x1="265" y1="513" x2="265" y2="514.8" stroke="#333" stroke-width="0.6"/>
<line x1="271.35" y1="513" x2="271.35" y2="513.9" stroke="#666" stroke-width="0.4"/>
<line x1="275.07" y1="513" x2="275.07" y2="513.9" stroke="#666" stroke-width="0.4"/>
<line x1="277.7" y1="513" x2="277.7" y2="513.9" stroke="#666" stroke-width="0.4"/>
<line x1="279.75" y1="513" x2="279.75" y2="513.9" stroke="#666" stroke-width="0.4"/>
<line x1="281.42" y1="513" x2="281.42" y2="513.9" stroke="#666" stroke-width="0.4"/>
<line x1="282.83" y1="513" x2="282.83" y2="513.9" stroke="#666" stroke-width="0.4"/>
<line x1="284.06" y1="513" x2="284.06" y2="513.9" stroke="#666" stroke-width="0.4"/>
<line x1="285.13" y1="513" x2="285.13" y2="513.9" stroke="#666" stroke-width="0.4"/>
<text x="263" y="520" font-size="3.6" font-weight="bold" fill="#333" stroke="#000" stroke-width="0.22">10</text>
<text x="267.1" y="518.4" font-size="2.6" font-weight="bold" fill="#333" stroke="#000" stroke-width="0.22">2</text>
<line x1="286.1" y1="513" x2="286.1" y2="514.8" stroke="#333" stroke-width="0.6"/>
<line x1="290.92" y1="513" x2="290.92" y2="513.9" stroke="#666" stroke-width="0.4"/>
<line x1="293.73" y1="513" x2="293.73" y2="513.9" stroke="#666" stroke-width="0.4"/>
<line x1="295.73" y1="513" x2="295.73" y2="513.9" stroke="#666" stroke-width="0.4"/>
<line x1="297.28" y1="513" x2="297.28" y2="513.9" stroke="#666" stroke-width="0.4"/>
<line x1="298.55" y1="513" x2="298.55" y2="513.9" stroke="#666" stroke-width="0.4"/>
<line x1="299.62" y1="513" x2="299.62" y2="513.9" stroke="#666" stroke-width="0.4"/>
<line x1="300.55" y1="513" x2="300.55" y2="513.9" stroke="#666" stroke-width="0.4"/>
<line x1="301.37" y1="513" x2="301.37" y2="513.9" stroke="#666" stroke-width="0.4"/>
<text x="284.1" y="520" font-size="3.6" font-weight="bold" fill="#333" stroke="#000" stroke-width="0.22">10</text>
<text x="288.2" y="518.4" font-size="2.6" font-weight="bold" fill="#333" stroke="#000" stroke-width="0.22">3</text>
<line x1="302.1" y1="513" x2="302.1" y2="514.8" stroke="#333" stroke-width="0.6"/>
<text x="300.1" y="520" font-size="3.6" font-weight="bold" fill="#333" stroke="#000" stroke-width="0.22">10</text>
<text x="304.2" y="518.4" font-size="2.6" font-weight="bold" fill="#333" stroke="#000" stroke-width="0.22">4</text>
<line x1="227.2" y1="464.1" x2="270.6" y2="464.1" stroke="#444" stroke-width="0.9"/>
<line x1="227.2" y1="462.5" x2="227.2" y2="465.7" stroke="#444" stroke-width="0.9"/>
<line x1="270.6" y1="462.5" x2="270.6" y2="465.7" stroke="#444" stroke-width="0.9"/>
<text x="250.5" y="462.2" font-size="7.4" text-anchor="middle" fill="#222" textLength="14.6" lengthAdjust="spacingAndGlyphs" stroke="#000" stroke-width="0.22">10%</text>
<text x="338.3" y="444.3" font-size="7.2" textLength="52.5" lengthAdjust="spacingAndGlyphs" stroke="#000" stroke-width="0.22">CpG-<tspan font-style="italic">Luc</tspan> siRNA</text>
<path d="M325.2 512.3 L345.4 512.1 L349.4 510.7 L352.5 508.7 L355.5 509.3 L358.5 505.7 L361.5 502.6 L364.6 499.6 L366.6 495.6 L367.6 493.6 L369.6 497.6 L371.6 496.6 L373.7 499.2 L375.7 497.6 L377.7 496.6 L379.3 483.5 L380.7 469.3 L381.7 459.2 L382.7 453.2 L383.8 461.3 L385.2 477.4 L386.8 486.5 L388.8 489.5 L390.8 491.5 L392.8 494.6 L394.9 501.6 L396.9 507.7 L399.9 511.3 L408 512.3" fill="none" stroke="#111" stroke-width="1.15" stroke-linejoin="round"/>
<line x1="324.5" y1="449.6" x2="408.3" y2="449.6" stroke="#777" stroke-width="0.6"/>
<line x1="408.3" y1="449.6" x2="408.3" y2="513" stroke="#777" stroke-width="0.6"/>
<line x1="324.5" y1="449.6" x2="324.5" y2="513" stroke="#333" stroke-width="0.8"/>
<line x1="324.5" y1="513" x2="408.3" y2="513" stroke="#333" stroke-width="0.8"/>
<line x1="322.5" y1="512.2" x2="324.5" y2="512.2" stroke="#333" stroke-width="0.6"/>
<text x="321.7" y="513.4" font-size="3.4" text-anchor="end" font-weight="bold" fill="#333" stroke="#000" stroke-width="0.22">0</text>
<line x1="323.5" y1="509.86" x2="324.5" y2="509.86" stroke="#666" stroke-width="0.4"/>
<line x1="323.5" y1="507.52" x2="324.5" y2="507.52" stroke="#666" stroke-width="0.4"/>
<line x1="323.5" y1="505.18" x2="324.5" y2="505.18" stroke="#666" stroke-width="0.4"/>
<line x1="323.5" y1="502.84" x2="324.5" y2="502.84" stroke="#666" stroke-width="0.4"/>
<line x1="322.5" y1="500.5" x2="324.5" y2="500.5" stroke="#333" stroke-width="0.6"/>
<text x="321.7" y="501.7" font-size="3.4" text-anchor="end" font-weight="bold" fill="#333" stroke="#000" stroke-width="0.22">20</text>
<line x1="323.5" y1="498.16" x2="324.5" y2="498.16" stroke="#666" stroke-width="0.4"/>
<line x1="323.5" y1="495.82" x2="324.5" y2="495.82" stroke="#666" stroke-width="0.4"/>
<line x1="323.5" y1="493.48" x2="324.5" y2="493.48" stroke="#666" stroke-width="0.4"/>
<line x1="323.5" y1="491.14" x2="324.5" y2="491.14" stroke="#666" stroke-width="0.4"/>
<line x1="322.5" y1="488.8" x2="324.5" y2="488.8" stroke="#333" stroke-width="0.6"/>
<text x="321.7" y="490" font-size="3.4" text-anchor="end" font-weight="bold" fill="#333" stroke="#000" stroke-width="0.22">40</text>
<line x1="323.5" y1="486.46" x2="324.5" y2="486.46" stroke="#666" stroke-width="0.4"/>
<line x1="323.5" y1="484.12" x2="324.5" y2="484.12" stroke="#666" stroke-width="0.4"/>
<line x1="323.5" y1="481.78" x2="324.5" y2="481.78" stroke="#666" stroke-width="0.4"/>
<line x1="323.5" y1="479.44" x2="324.5" y2="479.44" stroke="#666" stroke-width="0.4"/>
<line x1="322.5" y1="477.1" x2="324.5" y2="477.1" stroke="#333" stroke-width="0.6"/>
<text x="321.7" y="478.3" font-size="3.4" text-anchor="end" font-weight="bold" fill="#333" stroke="#000" stroke-width="0.22">60</text>
<line x1="323.5" y1="474.76" x2="324.5" y2="474.76" stroke="#666" stroke-width="0.4"/>
<line x1="323.5" y1="472.42" x2="324.5" y2="472.42" stroke="#666" stroke-width="0.4"/>
<line x1="323.5" y1="470.08" x2="324.5" y2="470.08" stroke="#666" stroke-width="0.4"/>
<line x1="323.5" y1="467.74" x2="324.5" y2="467.74" stroke="#666" stroke-width="0.4"/>
<line x1="322.5" y1="465.4" x2="324.5" y2="465.4" stroke="#333" stroke-width="0.6"/>
<text x="321.7" y="466.6" font-size="3.4" text-anchor="end" font-weight="bold" fill="#333" stroke="#000" stroke-width="0.22">80</text>
<line x1="323.5" y1="463.06" x2="324.5" y2="463.06" stroke="#666" stroke-width="0.4"/>
<line x1="323.5" y1="460.72" x2="324.5" y2="460.72" stroke="#666" stroke-width="0.4"/>
<line x1="323.5" y1="458.38" x2="324.5" y2="458.38" stroke="#666" stroke-width="0.4"/>
<line x1="323.5" y1="456.04" x2="324.5" y2="456.04" stroke="#666" stroke-width="0.4"/>
<line x1="322.5" y1="453.7" x2="324.5" y2="453.7" stroke="#333" stroke-width="0.6"/>
<text x="321.7" y="454.9" font-size="3.4" text-anchor="end" font-weight="bold" fill="#333" stroke="#000" stroke-width="0.22">100</text>
<line x1="330" y1="513" x2="330" y2="514.8" stroke="#333" stroke-width="0.6"/>
<line x1="335.33" y1="513" x2="335.33" y2="513.9" stroke="#666" stroke-width="0.4"/>
<line x1="338.45" y1="513" x2="338.45" y2="513.9" stroke="#666" stroke-width="0.4"/>
<line x1="340.66" y1="513" x2="340.66" y2="513.9" stroke="#666" stroke-width="0.4"/>
<line x1="342.37" y1="513" x2="342.37" y2="513.9" stroke="#666" stroke-width="0.4"/>
<line x1="343.77" y1="513" x2="343.77" y2="513.9" stroke="#666" stroke-width="0.4"/>
<line x1="344.96" y1="513" x2="344.96" y2="513.9" stroke="#666" stroke-width="0.4"/>
<line x1="345.98" y1="513" x2="345.98" y2="513.9" stroke="#666" stroke-width="0.4"/>
<line x1="346.89" y1="513" x2="346.89" y2="513.9" stroke="#666" stroke-width="0.4"/>
<text x="328" y="520" font-size="3.6" font-weight="bold" fill="#333" stroke="#000" stroke-width="0.22">10</text>
<text x="332.1" y="518.4" font-size="2.6" font-weight="bold" fill="#333" stroke="#000" stroke-width="0.22">0</text>
<line x1="347.7" y1="513" x2="347.7" y2="514.8" stroke="#333" stroke-width="0.6"/>
<line x1="353.81" y1="513" x2="353.81" y2="513.9" stroke="#666" stroke-width="0.4"/>
<line x1="357.39" y1="513" x2="357.39" y2="513.9" stroke="#666" stroke-width="0.4"/>
<line x1="359.92" y1="513" x2="359.92" y2="513.9" stroke="#666" stroke-width="0.4"/>
<line x1="361.89" y1="513" x2="361.89" y2="513.9" stroke="#666" stroke-width="0.4"/>
<line x1="363.5" y1="513" x2="363.5" y2="513.9" stroke="#666" stroke-width="0.4"/>
<line x1="364.86" y1="513" x2="364.86" y2="513.9" stroke="#666" stroke-width="0.4"/>
<line x1="366.03" y1="513" x2="366.03" y2="513.9" stroke="#666" stroke-width="0.4"/>
<line x1="367.07" y1="513" x2="367.07" y2="513.9" stroke="#666" stroke-width="0.4"/>
<text x="345.7" y="520" font-size="3.6" font-weight="bold" fill="#333" stroke="#000" stroke-width="0.22">10</text>
<text x="349.8" y="518.4" font-size="2.6" font-weight="bold" fill="#333" stroke="#000" stroke-width="0.22">1</text>
<line x1="368" y1="513" x2="368" y2="514.8" stroke="#333" stroke-width="0.6"/>
<line x1="374.35" y1="513" x2="374.35" y2="513.9" stroke="#666" stroke-width="0.4"/>
<line x1="378.07" y1="513" x2="378.07" y2="513.9" stroke="#666" stroke-width="0.4"/>
<line x1="380.7" y1="513" x2="380.7" y2="513.9" stroke="#666" stroke-width="0.4"/>
<line x1="382.75" y1="513" x2="382.75" y2="513.9" stroke="#666" stroke-width="0.4"/>
<line x1="384.42" y1="513" x2="384.42" y2="513.9" stroke="#666" stroke-width="0.4"/>
<line x1="385.83" y1="513" x2="385.83" y2="513.9" stroke="#666" stroke-width="0.4"/>
<line x1="387.06" y1="513" x2="387.06" y2="513.9" stroke="#666" stroke-width="0.4"/>
<line x1="388.13" y1="513" x2="388.13" y2="513.9" stroke="#666" stroke-width="0.4"/>
<text x="366" y="520" font-size="3.6" font-weight="bold" fill="#333" stroke="#000" stroke-width="0.22">10</text>
<text x="370.1" y="518.4" font-size="2.6" font-weight="bold" fill="#333" stroke="#000" stroke-width="0.22">2</text>
<line x1="389.1" y1="513" x2="389.1" y2="514.8" stroke="#333" stroke-width="0.6"/>
<line x1="393.92" y1="513" x2="393.92" y2="513.9" stroke="#666" stroke-width="0.4"/>
<line x1="396.73" y1="513" x2="396.73" y2="513.9" stroke="#666" stroke-width="0.4"/>
<line x1="398.73" y1="513" x2="398.73" y2="513.9" stroke="#666" stroke-width="0.4"/>
<line x1="400.28" y1="513" x2="400.28" y2="513.9" stroke="#666" stroke-width="0.4"/>
<line x1="401.55" y1="513" x2="401.55" y2="513.9" stroke="#666" stroke-width="0.4"/>
<line x1="402.62" y1="513" x2="402.62" y2="513.9" stroke="#666" stroke-width="0.4"/>
<line x1="403.55" y1="513" x2="403.55" y2="513.9" stroke="#666" stroke-width="0.4"/>
<line x1="404.37" y1="513" x2="404.37" y2="513.9" stroke="#666" stroke-width="0.4"/>
<text x="387.1" y="520" font-size="3.6" font-weight="bold" fill="#333" stroke="#000" stroke-width="0.22">10</text>
<text x="391.2" y="518.4" font-size="2.6" font-weight="bold" fill="#333" stroke="#000" stroke-width="0.22">3</text>
<line x1="405.1" y1="513" x2="405.1" y2="514.8" stroke="#333" stroke-width="0.6"/>
<text x="403.1" y="520" font-size="3.6" font-weight="bold" fill="#333" stroke="#000" stroke-width="0.22">10</text>
<text x="407.2" y="518.4" font-size="2.6" font-weight="bold" fill="#333" stroke="#000" stroke-width="0.22">4</text>
<line x1="330" y1="464.1" x2="373.3" y2="464.1" stroke="#444" stroke-width="0.9"/>
<line x1="330" y1="462.5" x2="330" y2="465.7" stroke="#444" stroke-width="0.9"/>
<line x1="373.3" y1="462.5" x2="373.3" y2="465.7" stroke="#444" stroke-width="0.9"/>
<text x="357.2" y="462.2" font-size="7.4" text-anchor="middle" fill="#222" textLength="14.6" lengthAdjust="spacingAndGlyphs" stroke="#000" stroke-width="0.22">23%</text>
<text x="442.3" y="444.3" font-size="7.2" textLength="59.5" lengthAdjust="spacingAndGlyphs" stroke="#000" stroke-width="0.22">CpG-<tspan font-style="italic">Stat3</tspan> siRNA</text>
<path d="M429.1 512.3 L439.2 512.1 L442.3 509.7 L445.3 506.7 L448.3 504.7 L451.3 505.3 L453.4 503.7 L455.4 505.7 L457.4 503.7 L459.4 504.7 L461.4 501.6 L463.5 497.6 L465.5 491.5 L467.1 485.5 L468.5 483.5 L470.5 484.5 L472.6 485.5 L474.6 484.5 L476.6 488.5 L478.6 489.5 L480.6 475.4 L482.2 463.3 L483.3 459.2 L484.3 463.3 L485.7 479.4 L487.7 495.6 L489.7 500.6 L491.7 501.6 L494.8 503.7 L497.8 507.7 L500.8 510.7 L503.9 512.1 L513.9 512.3" fill="none" stroke="#111" stroke-width="1.15" stroke-linejoin="round"/>
<line x1="428.7" y1="449.6" x2="513.9" y2="449.6" stroke="#777" stroke-width="0.6"/>
<line x1="513.9" y1="449.6" x2="513.9" y2="513" stroke="#777" stroke-width="0.6"/>
<line x1="428.7" y1="449.6" x2="428.7" y2="513" stroke="#333" stroke-width="0.8"/>
<line x1="428.7" y1="513" x2="513.9" y2="513" stroke="#333" stroke-width="0.8"/>
<line x1="426.7" y1="512.2" x2="428.7" y2="512.2" stroke="#333" stroke-width="0.6"/>
<text x="425.9" y="513.4" font-size="3.4" text-anchor="end" font-weight="bold" fill="#333" stroke="#000" stroke-width="0.22">0</text>
<line x1="427.7" y1="509.86" x2="428.7" y2="509.86" stroke="#666" stroke-width="0.4"/>
<line x1="427.7" y1="507.52" x2="428.7" y2="507.52" stroke="#666" stroke-width="0.4"/>
<line x1="427.7" y1="505.18" x2="428.7" y2="505.18" stroke="#666" stroke-width="0.4"/>
<line x1="427.7" y1="502.84" x2="428.7" y2="502.84" stroke="#666" stroke-width="0.4"/>
<line x1="426.7" y1="500.5" x2="428.7" y2="500.5" stroke="#333" stroke-width="0.6"/>
<text x="425.9" y="501.7" font-size="3.4" text-anchor="end" font-weight="bold" fill="#333" stroke="#000" stroke-width="0.22">20</text>
<line x1="427.7" y1="498.16" x2="428.7" y2="498.16" stroke="#666" stroke-width="0.4"/>
<line x1="427.7" y1="495.82" x2="428.7" y2="495.82" stroke="#666" stroke-width="0.4"/>
<line x1="427.7" y1="493.48" x2="428.7" y2="493.48" stroke="#666" stroke-width="0.4"/>
<line x1="427.7" y1="491.14" x2="428.7" y2="491.14" stroke="#666" stroke-width="0.4"/>
<line x1="426.7" y1="488.8" x2="428.7" y2="488.8" stroke="#333" stroke-width="0.6"/>
<text x="425.9" y="490" font-size="3.4" text-anchor="end" font-weight="bold" fill="#333" stroke="#000" stroke-width="0.22">40</text>
<line x1="427.7" y1="486.46" x2="428.7" y2="486.46" stroke="#666" stroke-width="0.4"/>
<line x1="427.7" y1="484.12" x2="428.7" y2="484.12" stroke="#666" stroke-width="0.4"/>
<line x1="427.7" y1="481.78" x2="428.7" y2="481.78" stroke="#666" stroke-width="0.4"/>
<line x1="427.7" y1="479.44" x2="428.7" y2="479.44" stroke="#666" stroke-width="0.4"/>
<line x1="426.7" y1="477.1" x2="428.7" y2="477.1" stroke="#333" stroke-width="0.6"/>
<text x="425.9" y="478.3" font-size="3.4" text-anchor="end" font-weight="bold" fill="#333" stroke="#000" stroke-width="0.22">60</text>
<line x1="427.7" y1="474.76" x2="428.7" y2="474.76" stroke="#666" stroke-width="0.4"/>
<line x1="427.7" y1="472.42" x2="428.7" y2="472.42" stroke="#666" stroke-width="0.4"/>
<line x1="427.7" y1="470.08" x2="428.7" y2="470.08" stroke="#666" stroke-width="0.4"/>
<line x1="427.7" y1="467.74" x2="428.7" y2="467.74" stroke="#666" stroke-width="0.4"/>
<line x1="426.7" y1="465.4" x2="428.7" y2="465.4" stroke="#333" stroke-width="0.6"/>
<text x="425.9" y="466.6" font-size="3.4" text-anchor="end" font-weight="bold" fill="#333" stroke="#000" stroke-width="0.22">80</text>
<line x1="427.7" y1="463.06" x2="428.7" y2="463.06" stroke="#666" stroke-width="0.4"/>
<line x1="427.7" y1="460.72" x2="428.7" y2="460.72" stroke="#666" stroke-width="0.4"/>
<line x1="427.7" y1="458.38" x2="428.7" y2="458.38" stroke="#666" stroke-width="0.4"/>
<line x1="427.7" y1="456.04" x2="428.7" y2="456.04" stroke="#666" stroke-width="0.4"/>
<line x1="426.7" y1="453.7" x2="428.7" y2="453.7" stroke="#333" stroke-width="0.6"/>
<text x="425.9" y="454.9" font-size="3.4" text-anchor="end" font-weight="bold" fill="#333" stroke="#000" stroke-width="0.22">100</text>
<line x1="434.2" y1="513" x2="434.2" y2="514.8" stroke="#333" stroke-width="0.6"/>
<line x1="439.53" y1="513" x2="439.53" y2="513.9" stroke="#666" stroke-width="0.4"/>
<line x1="442.65" y1="513" x2="442.65" y2="513.9" stroke="#666" stroke-width="0.4"/>
<line x1="444.86" y1="513" x2="444.86" y2="513.9" stroke="#666" stroke-width="0.4"/>
<line x1="446.57" y1="513" x2="446.57" y2="513.9" stroke="#666" stroke-width="0.4"/>
<line x1="447.97" y1="513" x2="447.97" y2="513.9" stroke="#666" stroke-width="0.4"/>
<line x1="449.16" y1="513" x2="449.16" y2="513.9" stroke="#666" stroke-width="0.4"/>
<line x1="450.18" y1="513" x2="450.18" y2="513.9" stroke="#666" stroke-width="0.4"/>
<line x1="451.09" y1="513" x2="451.09" y2="513.9" stroke="#666" stroke-width="0.4"/>
<text x="432.2" y="520" font-size="3.6" font-weight="bold" fill="#333" stroke="#000" stroke-width="0.22">10</text>
<text x="436.3" y="518.4" font-size="2.6" font-weight="bold" fill="#333" stroke="#000" stroke-width="0.22">0</text>
<line x1="451.9" y1="513" x2="451.9" y2="514.8" stroke="#333" stroke-width="0.6"/>
<line x1="458.01" y1="513" x2="458.01" y2="513.9" stroke="#666" stroke-width="0.4"/>
<line x1="461.59" y1="513" x2="461.59" y2="513.9" stroke="#666" stroke-width="0.4"/>
<line x1="464.12" y1="513" x2="464.12" y2="513.9" stroke="#666" stroke-width="0.4"/>
<line x1="466.09" y1="513" x2="466.09" y2="513.9" stroke="#666" stroke-width="0.4"/>
<line x1="467.7" y1="513" x2="467.7" y2="513.9" stroke="#666" stroke-width="0.4"/>
<line x1="469.06" y1="513" x2="469.06" y2="513.9" stroke="#666" stroke-width="0.4"/>
<line x1="470.23" y1="513" x2="470.23" y2="513.9" stroke="#666" stroke-width="0.4"/>
<line x1="471.27" y1="513" x2="471.27" y2="513.9" stroke="#666" stroke-width="0.4"/>
<text x="449.9" y="520" font-size="3.6" font-weight="bold" fill="#333" stroke="#000" stroke-width="0.22">10</text>
<text x="454" y="518.4" font-size="2.6" font-weight="bold" fill="#333" stroke="#000" stroke-width="0.22">1</text>
<line x1="472.2" y1="513" x2="472.2" y2="514.8" stroke="#333" stroke-width="0.6"/>
<line x1="478.55" y1="513" x2="478.55" y2="513.9" stroke="#666" stroke-width="0.4"/>
<line x1="482.27" y1="513" x2="482.27" y2="513.9" stroke="#666" stroke-width="0.4"/>
<line x1="484.9" y1="513" x2="484.9" y2="513.9" stroke="#666" stroke-width="0.4"/>
<line x1="486.95" y1="513" x2="486.95" y2="513.9" stroke="#666" stroke-width="0.4"/>
<line x1="488.62" y1="513" x2="488.62" y2="513.9" stroke="#666" stroke-width="0.4"/>
<line x1="490.03" y1="513" x2="490.03" y2="513.9" stroke="#666" stroke-width="0.4"/>
<line x1="491.26" y1="513" x2="491.26" y2="513.9" stroke="#666" stroke-width="0.4"/>
<line x1="492.33" y1="513" x2="492.33" y2="513.9" stroke="#666" stroke-width="0.4"/>
<text x="470.2" y="520" font-size="3.6" font-weight="bold" fill="#333" stroke="#000" stroke-width="0.22">10</text>
<text x="474.3" y="518.4" font-size="2.6" font-weight="bold" fill="#333" stroke="#000" stroke-width="0.22">2</text>
<line x1="493.3" y1="513" x2="493.3" y2="514.8" stroke="#333" stroke-width="0.6"/>
<line x1="498.12" y1="513" x2="498.12" y2="513.9" stroke="#666" stroke-width="0.4"/>
<line x1="500.93" y1="513" x2="500.93" y2="513.9" stroke="#666" stroke-width="0.4"/>
<line x1="502.93" y1="513" x2="502.93" y2="513.9" stroke="#666" stroke-width="0.4"/>
<line x1="504.48" y1="513" x2="504.48" y2="513.9" stroke="#666" stroke-width="0.4"/>
<line x1="505.75" y1="513" x2="505.75" y2="513.9" stroke="#666" stroke-width="0.4"/>
<line x1="506.82" y1="513" x2="506.82" y2="513.9" stroke="#666" stroke-width="0.4"/>
<line x1="507.75" y1="513" x2="507.75" y2="513.9" stroke="#666" stroke-width="0.4"/>
<line x1="508.57" y1="513" x2="508.57" y2="513.9" stroke="#666" stroke-width="0.4"/>
<text x="491.3" y="520" font-size="3.6" font-weight="bold" fill="#333" stroke="#000" stroke-width="0.22">10</text>
<text x="495.4" y="518.4" font-size="2.6" font-weight="bold" fill="#333" stroke="#000" stroke-width="0.22">3</text>
<line x1="509.3" y1="513" x2="509.3" y2="514.8" stroke="#333" stroke-width="0.6"/>
<text x="507.3" y="520" font-size="3.6" font-weight="bold" fill="#333" stroke="#000" stroke-width="0.22">10</text>
<text x="511.4" y="518.4" font-size="2.6" font-weight="bold" fill="#333" stroke="#000" stroke-width="0.22">4</text>
<line x1="435.2" y1="464.1" x2="478.6" y2="464.1" stroke="#444" stroke-width="0.9"/>
<line x1="435.2" y1="462.5" x2="435.2" y2="465.7" stroke="#444" stroke-width="0.9"/>
<line x1="478.6" y1="462.5" x2="478.6" y2="465.7" stroke="#444" stroke-width="0.9"/>
<text x="460.7" y="462.2" font-size="7.4" text-anchor="middle" fill="#222" textLength="14.6" lengthAdjust="spacingAndGlyphs" stroke="#000" stroke-width="0.22">54%</text>
<text x="205.7" y="473.6" font-size="7.3" text-anchor="middle" textLength="31" lengthAdjust="spacingAndGlyphs" transform="rotate(-90 205.7 473.6)" stroke="#000" stroke-width="0.22">% of Max</text>
<line x1="202.8" y1="532.3" x2="202.8" y2="500" stroke="#222" stroke-width="0.9"/>
<path d="M202.8 494.6 L205 501.8 L200.6 501.8 Z" fill="#111" stroke="none" stroke-width="1"/>
<line x1="202.8" y1="531.5" x2="387" y2="531.5" stroke="#222" stroke-width="0.9"/>
<path d="M393 531.5 L385.6 529.4 L385.6 533.6 Z" fill="#111" stroke="none" stroke-width="1"/>
<text x="398.4" y="534" font-size="7.3" textLength="19.5" lengthAdjust="spacingAndGlyphs" stroke="#000" stroke-width="0.22">CFSE</text>
</svg></body></html>
